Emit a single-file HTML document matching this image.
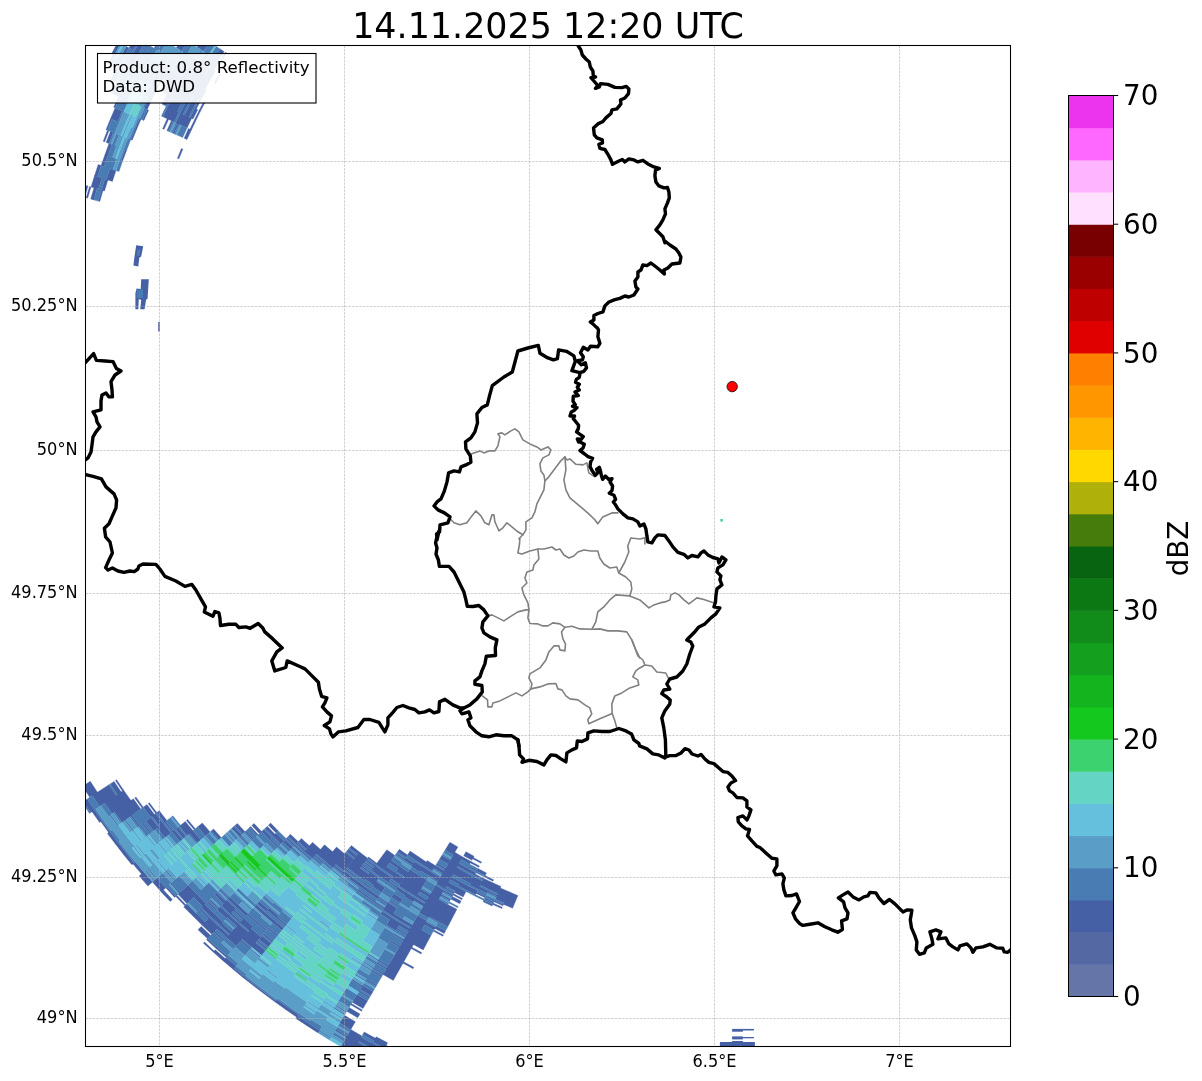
<!DOCTYPE html>
<html><head><meta charset="utf-8"><title>Radar</title>
<style>
html,body{margin:0;padding:0;background:#fff}
body{width:1202px;height:1081px;overflow:hidden}
svg{display:block}
text{font-family:"DejaVu Sans","Liberation Sans",sans-serif;fill:#000}
.grid line{stroke:#adadad;stroke-width:0.55;stroke-dasharray:2.6 1.0}
.bd{fill:none;stroke:#000;stroke-width:3.4;stroke-linejoin:round;stroke-linecap:round}
.ct{fill:none;stroke:#808080;stroke-width:1.6;stroke-linejoin:round;stroke-linecap:round}
</style></head><body>
<svg width="1202" height="1081" viewBox="0 0 1202 1081">
<rect width="1202" height="1081" fill="#fff"/>
<defs><clipPath id="ax"><rect x="85.5" y="45.5" width="925" height="1001"/></clipPath></defs>
<g clip-path="url(#ax)">
<g class="radar">
<path fill="#4560a4" stroke="#4560a4" stroke-width="0.35" d="M517.9,895.6L512.6,908.2L503.6,904.4L509.1,891.8ZM509.1,891.8L504.2,903.0L495.3,899.0L500.3,887.9ZM503.6,904.4L503.0,905.8L494.0,901.8L494.6,900.4ZM502.4,907.2L501.8,908.6L492.7,904.6L493.4,903.2ZM501.0,886.6L497.8,893.5L489.0,889.4L492.3,882.5ZM497.2,894.9L496.5,896.3L487.7,892.2L488.4,890.8ZM494.0,901.8L493.4,903.2L484.4,899.0L485.1,897.7ZM492.7,904.6L492.1,906.0L483.1,901.8L483.8,900.4ZM493.6,879.8L493.0,881.2L484.4,877.0L485.1,875.6ZM492.3,882.5L489.0,889.4L480.3,885.2L483.7,878.4ZM488.4,890.8L487.1,893.5L478.3,889.3L479.6,886.5ZM485.7,896.3L485.1,897.7L476.2,893.4L476.9,892.0ZM486.5,872.9L485.1,875.6L476.6,871.3L478.0,868.6ZM483.7,878.4L483.0,879.7L474.5,875.4L475.2,874.0ZM482.4,881.1L478.3,889.3L469.6,884.9L473.8,876.7ZM477.6,890.6L475.5,894.7L466.8,890.3L468.9,886.2ZM397.6,1051.3L397.0,1052.6L385.5,1046.8L386.2,1045.5ZM481.6,861.9L480.9,863.2L472.6,858.8L473.3,857.5ZM479.4,865.9L478.7,867.3L470.4,862.9L471.1,861.5ZM477.3,870.0L476.6,871.3L468.2,866.9L469.0,865.5ZM475.9,872.7L474.5,875.4L466.0,870.9L467.5,868.2ZM473.8,876.7L470.3,883.5L461.7,879.0L465.3,872.2ZM468.9,886.2L466.8,890.3L458.0,885.7L460.2,881.6ZM466.0,891.6L463.2,897.0L454.4,892.4L457.3,887.0ZM462.5,898.4L461.8,899.7L452.9,895.0L453.7,893.7ZM461.1,901.1L459.7,903.8L450.8,899.1L452.2,896.4ZM456.9,909.2L447.8,926.8L438.4,921.8L447.8,904.4ZM445.6,930.8L444.2,933.5L434.8,928.5L436.2,925.9ZM443.5,934.9L442.8,936.2L433.3,931.2L434.0,929.9ZM387.6,1042.8L384.8,1048.2L373.3,1042.2L376.2,1036.8ZM384.1,1049.5L382.0,1053.6L370.5,1047.5L372.6,1043.5ZM474.1,856.2L471.9,860.2L463.7,855.7L465.9,851.7ZM471.1,861.5L469.7,864.2L461.4,859.6L462.9,857.0ZM467.5,868.2L466.0,870.9L457.7,866.3L459.2,863.6ZM465.3,872.2L461.7,879.0L453.1,874.3L456.9,867.6ZM460.2,881.6L458.8,884.3L450.1,879.6L451.6,876.9ZM457.3,887.0L455.1,891.0L446.4,886.2L448.6,882.2ZM454.4,892.4L453.7,893.7L444.9,888.9L445.6,887.5ZM452.9,895.0L452.2,896.4L443.4,891.5L444.1,890.2ZM450.8,899.1L450.0,900.4L441.1,895.5L441.9,894.2ZM447.8,904.4L438.4,921.8L429.1,916.7L438.9,899.5ZM435.5,927.2L434.0,929.9L424.6,924.7L426.1,922.0ZM431.1,935.2L423.2,949.9L413.4,944.6L421.7,930.0ZM421.7,952.6L421.0,954.0L411.2,948.6L411.9,947.2ZM413.8,967.3L413.0,968.7L403.0,963.2L403.7,961.8ZM375.5,1038.2L374.1,1040.8L362.8,1034.7L364.2,1032.0ZM372.6,1043.5L370.5,1047.5L359.0,1041.3L361.3,1037.3ZM369.7,1048.9L367.6,1052.9L356.1,1046.6L358.3,1042.6ZM462.9,857.0L444.9,888.9L436.2,883.9L454.8,852.3ZM444.1,890.2L428.4,918.1L419.2,912.8L435.4,885.2ZM426.9,920.7L393.3,980.4L383.0,974.5L417.6,915.4ZM362.0,1036.0L352.4,1053.2L340.8,1046.6L350.8,1029.6ZM457.9,847.0L453.2,854.9L445.1,850.1L449.9,842.3ZM450.1,860.2L447.8,864.1L439.5,859.2L441.9,855.3ZM445.5,868.1L444.7,869.4L436.3,864.4L437.1,863.1ZM443.9,870.7L442.4,873.4L433.9,868.3L435.5,865.7ZM440.1,877.3L437.7,881.2L429.2,876.1L431.6,872.2ZM430.0,894.4L428.5,897.0L419.6,891.8L421.2,889.2ZM426.9,899.7L425.4,902.3L416.4,897.0L418.0,894.4ZM424.6,903.6L423.1,906.2L414.1,900.9L415.6,898.3ZM412.2,924.6L410.7,927.3L401.3,921.7L402.9,919.1ZM409.9,928.6L408.4,931.2L399.0,925.6L400.6,923.0ZM406.9,933.8L406.1,935.1L396.6,929.5L397.4,928.2ZM403.8,939.1L403.0,940.4L393.4,934.7L394.2,933.4ZM399.9,945.6L399.1,947.0L389.5,941.2L390.2,939.9ZM388.4,965.3L387.6,966.6L377.6,960.7L378.4,959.4ZM386.8,968.0L386.1,969.3L376.0,963.3L376.8,962.0ZM383.8,973.2L383.0,974.5L372.8,968.5L373.6,967.2ZM382.2,975.8L381.5,977.1L371.2,971.1L372.0,969.8ZM376.9,985.0L376.1,986.3L365.7,980.2L366.5,978.9ZM373.0,991.6L370.7,995.5L360.2,989.3L362.5,985.4ZM369.9,996.8L369.2,998.1L358.6,991.9L359.4,990.6ZM367.6,1000.8L363.0,1008.6L352.3,1002.2L357.0,994.5ZM362.3,1009.9L361.5,1011.2L350.7,1004.8L351.5,1003.5ZM360.0,1013.9L357.7,1017.8L346.8,1011.3L349.1,1007.4ZM355.4,1021.7L350.8,1029.6L339.7,1023.0L344.4,1015.2ZM347.0,1036.1L346.2,1037.5L334.9,1030.8L335.7,1029.5ZM435.5,865.7L432.4,870.9L424.0,865.7L427.2,860.6ZM431.6,872.2L429.2,876.1L420.7,870.9L423.1,867.0ZM426.8,880.0L416.4,897.0L407.6,891.5L418.2,874.7ZM415.6,898.3L413.3,902.2L404.3,896.6L406.8,892.8ZM402.9,919.1L401.3,921.7L392.1,916.0L393.7,913.4ZM400.6,923.0L395.8,930.8L386.4,925.0L391.3,917.2ZM362.5,985.4L361.8,986.7L351.4,980.3L352.2,979.0ZM426.4,861.9L424.0,865.7L415.7,860.4L418.2,856.6ZM423.1,867.0L419.9,872.2L411.5,866.8L414.8,861.7ZM418.2,874.7L407.6,891.5L398.9,885.9L409.8,869.3ZM406.8,892.8L405.2,895.4L396.3,889.7L398.0,887.1ZM402.7,899.2L400.2,903.1L391.3,897.3L393.8,893.5ZM398.6,905.7L397.8,906.9L388.8,901.2L389.6,899.9ZM397.0,908.2L392.1,916.0L382.9,910.1L388.0,902.4ZM391.3,917.2L389.6,919.8L380.4,913.9L382.1,911.3ZM319.8,1030.4L318.1,1032.9L307.0,1025.8L308.6,1023.3ZM418.2,856.6L415.7,860.4L407.5,854.9L410.1,851.1ZM414.0,862.9L412.3,865.5L404.0,859.9L405.7,857.4ZM408.1,871.9L404.7,876.9L396.2,871.3L399.7,866.2ZM403.9,878.2L399.7,884.6L391.1,878.8L395.4,872.5ZM398.0,887.1L397.2,888.4L388.5,882.6L389.4,881.4ZM388.0,902.4L387.1,903.7L378.2,897.7L379.0,896.5ZM384.6,907.5L383.8,908.8L374.7,902.8L375.6,901.5ZM308.6,1023.3L307.0,1025.8L295.9,1018.5L297.6,1016.0ZM407.5,854.9L405.7,857.4L397.6,851.8L399.3,849.3ZM404.9,858.7L404.0,859.9L395.8,854.3L396.7,853.0ZM399.7,866.2L398.0,868.8L389.6,863.0L391.4,860.5ZM395.4,872.5L392.8,876.3L384.3,870.4L387.0,866.7ZM391.9,877.6L388.5,882.6L379.9,876.7L383.4,871.7ZM385.0,887.7L381.6,892.7L372.8,886.6L376.4,881.6ZM379.0,896.5L377.3,899.0L368.4,892.8L370.2,890.4ZM375.6,901.5L374.7,902.8L365.8,896.6L366.7,895.3ZM298.5,1014.7L296.8,1017.2L285.9,1009.7L287.6,1007.2ZM394.9,855.5L384.3,870.4L375.9,864.4L386.8,849.7ZM383.4,871.7L379.9,876.7L371.4,870.6L375.0,865.6ZM379.0,877.9L373.7,885.4L365.1,879.2L370.5,871.8ZM372.0,887.9L371.1,889.1L362.4,882.9L363.3,881.6ZM370.2,890.4L368.4,892.8L359.7,886.6L361.5,884.1ZM366.7,895.3L365.8,896.6L356.9,890.2L357.8,889.0ZM287.6,1007.2L285.9,1009.7L275.1,1002.0L276.9,999.6ZM376.8,863.2L375.9,864.4L367.7,858.2L368.6,857.0ZM375.0,865.6L374.1,866.9L365.8,860.7L366.7,859.5ZM373.2,868.1L372.3,869.3L363.9,863.1L364.9,861.9ZM370.5,871.8L369.6,873.0L361.2,866.8L362.1,865.5ZM368.7,874.3L364.2,880.4L355.6,874.0L360.2,868.0ZM361.5,884.1L359.7,886.6L351.0,880.1L352.8,877.7ZM276.0,1000.8L275.1,1002.0L264.4,994.1L265.3,992.9ZM367.7,858.2L355.6,874.0L347.2,867.5L359.5,851.9ZM354.7,875.3L353.8,876.5L345.3,869.9L346.2,868.7ZM352.8,877.7L351.0,880.1L342.4,873.5L344.3,871.1ZM265.3,992.9L264.4,994.1L253.9,986.1L254.8,984.9ZM359.5,851.9L357.6,854.3L349.5,847.9L351.4,845.5ZM356.6,855.5L354.7,857.9L346.6,851.4L348.5,849.0ZM353.8,859.1L344.3,871.1L335.9,864.4L345.6,852.6ZM343.4,872.3L342.4,873.5L334.0,866.8L335.0,865.6ZM254.8,984.9L253.9,986.1L243.5,977.9L244.5,976.7ZM344.6,853.8L333.0,868.0L324.7,861.1L336.5,847.1ZM286.7,924.7L285.8,925.9L276.4,918.2L277.4,917.0ZM283.9,928.2L281.9,930.6L272.5,922.8L274.5,920.5ZM278.1,935.3L277.1,936.5L267.6,928.7L268.6,927.5ZM273.3,941.2L272.3,942.4L262.7,934.5L263.7,933.3ZM271.4,943.6L268.5,947.1L258.8,939.2L261.7,935.7ZM267.5,948.3L266.5,949.5L256.8,941.5L257.8,940.3ZM265.6,950.7L261.7,955.4L251.9,947.3L255.8,942.7ZM244.5,976.7L243.5,977.9L233.3,969.4L234.3,968.3ZM332.6,851.7L324.7,861.1L316.5,854.0L324.5,844.8ZM323.7,862.2L322.7,863.4L314.5,856.3L315.5,855.2ZM278.4,915.9L276.4,918.2L267.2,910.3L269.2,908.0ZM274.5,920.5L272.5,922.8L263.2,914.9L265.2,912.6ZM266.6,929.8L265.6,931.0L256.2,923.0L257.2,921.8ZM260.7,936.8L251.9,947.3L242.2,939.0L251.2,928.7ZM250.9,948.5L249.9,949.6L240.2,941.3L241.2,940.2ZM236.2,965.9L233.3,969.4L223.2,960.9L226.2,957.4ZM320.5,849.4L312.4,858.6L304.3,851.4L312.5,842.3ZM268.2,909.2L266.2,911.5L257.1,903.4L259.2,901.2ZM265.2,912.6L263.2,914.9L254.1,906.8L256.1,904.6ZM257.2,921.8L256.2,923.0L246.9,914.7L247.9,913.6ZM253.2,926.4L249.2,931.0L239.7,922.7L243.8,918.1ZM248.2,932.1L236.2,945.9L226.5,937.4L238.7,923.8ZM227.2,956.3L226.2,957.4L216.3,948.7L217.3,947.6ZM225.2,958.6L223.2,960.9L213.2,952.1L215.3,949.8ZM309.4,845.7L306.3,849.1L298.3,841.7L301.4,838.4ZM305.3,850.2L304.3,851.4L296.2,844.0L297.2,842.9ZM303.2,852.5L302.2,853.6L294.1,846.2L295.1,845.1ZM247.9,913.6L245.9,915.9L236.7,907.5L238.8,905.3ZM243.8,918.1L242.8,919.3L233.6,910.8L234.6,909.7ZM240.8,921.5L239.7,922.7L230.4,914.2L231.5,913.1ZM238.7,923.8L236.7,926.1L227.3,917.5L229.4,915.3ZM231.6,931.7L229.5,934.0L220.0,925.3L222.1,923.1ZM228.5,935.1L226.5,937.4L216.9,928.7L219.0,926.4ZM224.4,939.6L223.4,940.8L213.8,932.0L214.8,930.9ZM217.3,947.6L216.3,948.7L206.5,939.8L207.6,938.7ZM214.2,951.0L213.2,952.1L203.4,943.2L204.5,942.0ZM298.3,841.7L296.2,844.0L288.3,836.4L290.4,834.2ZM295.1,845.1L294.1,846.2L286.1,838.6L287.2,837.5ZM293.1,847.3L291.0,849.5L282.9,841.9L285.1,839.7ZM238.8,905.3L236.7,907.5L227.7,899.0L229.8,896.8ZM235.7,908.6L230.4,914.2L221.3,905.5L226.6,900.1ZM229.4,915.3L226.3,918.6L217.1,909.9L220.2,906.6ZM223.2,922.0L220.0,925.3L210.7,916.5L213.9,913.2ZM219.0,926.4L211.7,934.2L202.2,925.3L209.6,917.6ZM210.7,935.4L207.6,938.7L198.0,929.7L201.2,926.4ZM284.0,840.8L280.8,844.1L272.9,836.3L276.1,833.1ZM278.7,846.3L277.6,847.4L269.6,839.6L270.7,838.5ZM228.7,897.9L227.7,899.0L218.8,890.3L219.8,889.2ZM225.5,901.1L223.4,903.3L214.4,894.6L216.6,892.4ZM219.2,907.7L218.1,908.8L209.1,900.0L210.1,898.9ZM217.1,909.9L216.0,911.0L206.9,902.1L208.0,901.0ZM213.9,913.2L210.7,916.5L201.5,907.5L204.7,904.3ZM209.6,917.6L208.6,918.7L199.3,909.7L200.4,908.6ZM205.4,922.0L202.2,925.3L192.9,916.1L196.1,912.9ZM278.3,830.9L276.1,833.1L268.4,825.2L270.6,823.1ZM275.0,834.2L272.9,836.3L265.1,828.4L267.3,826.3ZM271.8,837.4L269.6,839.6L261.7,831.6L263.9,829.4ZM205.8,903.2L202.6,906.4L193.6,897.3L196.8,894.1ZM196.1,912.9L192.9,916.1L183.7,906.9L187.0,903.7ZM261.7,831.6L259.5,833.7L251.8,825.5L254.0,823.4ZM258.4,834.7L257.3,835.8L249.5,827.6L250.7,826.6ZM254.0,839.0L252.9,840.0L245.1,831.8L246.2,830.7ZM248.5,844.3L247.4,845.3L239.5,837.0L240.6,835.9ZM196.8,894.1L187.0,903.7L178.0,894.3L188.0,884.9ZM185.9,904.7L184.8,905.8L175.8,896.4L176.9,895.3ZM245.1,831.8L242.8,833.9L235.0,825.4L237.3,823.4ZM241.7,834.9L239.5,837.0L231.6,828.5L233.9,826.4ZM180.2,892.2L179.1,893.2L170.3,883.7L171.4,882.7ZM175.8,896.4L174.6,897.4L165.8,887.8L166.9,886.8ZM172.4,899.5L170.2,901.6L161.2,891.9L163.5,889.9ZM221.4,837.7L219.1,839.7L211.2,830.9L213.6,828.9ZM165.8,887.8L161.2,891.9L152.5,882.1L157.1,878.1ZM210.1,831.9L205.5,835.9L197.7,826.8L202.3,822.9ZM200.9,839.9L197.4,842.9L189.5,833.7L193.0,830.7ZM152.5,882.1L147.9,886.1L139.2,876.0L143.8,872.1ZM195.3,828.8L194.1,829.8L186.4,820.5L187.6,819.5ZM193.0,830.7L187.1,835.7L179.3,826.3L185.3,821.4ZM185.9,836.6L183.6,838.6L175.7,829.1L178.1,827.2ZM182.4,839.6L180.1,841.6L172.2,832.0L174.6,830.1ZM143.8,872.1L141.5,874.1L133.0,863.9L135.4,861.9ZM173.4,831.1L172.2,832.0L164.4,822.4L165.6,821.4ZM171.0,833.0L165.1,837.8L157.2,828.0L163.2,823.3ZM134.2,862.9L131.8,864.8L123.5,854.5L125.9,852.6ZM166.8,820.5L164.4,822.4L156.8,812.6L159.3,810.7ZM163.2,823.3L159.6,826.2L152.0,816.3L155.6,813.5ZM158.4,827.1L153.6,830.9L145.9,820.9L150.7,817.2ZM151.2,832.8L150.0,833.7L142.2,823.7L143.4,822.8ZM125.9,852.6L123.5,854.5L115.4,844.0L117.8,842.2ZM156.8,812.6L155.6,813.5L148.2,803.6L149.4,802.7ZM154.4,814.4L150.7,817.2L143.2,807.2L147.0,804.5ZM139.8,825.5L138.5,826.4L130.9,816.2L132.1,815.3ZM117.8,842.2L115.4,844.0L107.4,833.4L109.9,831.6ZM143.2,807.2L142.0,808.1L134.7,797.9L135.9,797.0ZM140.8,809.0L122.2,822.5L114.6,812.0L133.4,798.8ZM109.9,831.6L108.6,832.5L100.9,821.7L102.1,820.8ZM130.9,800.5L112.1,813.8L104.7,803.1L123.7,790.2ZM102.1,820.8L99.6,822.6L92.0,811.7L94.5,810.0ZM123.7,790.2L122.4,791.0L115.4,780.5L116.6,779.7ZM121.2,791.9L117.3,794.5L110.2,783.9L114.1,781.4ZM116.1,795.3L99.6,806.5L92.3,795.6L109.0,784.7ZM94.5,810.0L90.7,812.6L83.3,801.5L87.2,799.0ZM97.4,792.3L89.7,797.3L82.6,786.2L90.3,781.3ZM99.8,201.5L98.3,201.1L101.5,190.0L103.0,190.5ZM93.8,199.9L90.7,199.0L94.0,187.8L97.0,188.7ZM87.7,198.2L86.2,197.7L89.5,186.5L91.0,186.9ZM84.7,197.3L83.2,196.9L86.5,185.6L88.0,186.0ZM104.5,190.9L101.5,190.0L104.9,179.0L107.9,180.0ZM98.5,189.1L91.0,186.9L94.5,175.7L101.9,178.1ZM112.4,181.4L106.4,179.5L110.0,168.5L116.0,170.6ZM97.5,176.6L94.5,175.7L98.2,164.5L101.1,165.5ZM104.1,166.5L101.1,165.5L105.0,154.5L107.9,155.6ZM122.7,160.8L121.2,160.3L125.2,149.6L126.7,150.2ZM107.9,155.6L105.0,154.5L109.0,143.5L112.0,144.6ZM109.0,143.5L106.1,142.4L110.4,131.5L113.3,132.6ZM104.6,141.9L103.2,141.3L107.4,130.3L108.9,130.9ZM178.9,158.8L177.4,158.2L181.4,148.5L182.9,149.1ZM132.2,140.2L130.8,139.6L135.1,129.0L136.5,129.7ZM107.4,130.3L106.0,129.7L110.5,118.7L111.9,119.4ZM136.5,129.7L135.1,129.0L139.6,118.6L141.0,119.2ZM117.7,121.8L110.5,118.7L115.1,107.9L122.3,111.0ZM187.0,139.5L184.2,138.2L188.5,128.6L191.4,129.9ZM174.1,133.8L172.7,133.1L177.1,123.3L178.5,124.0ZM168.4,131.2L166.9,130.6L171.4,120.7L172.8,121.4ZM164.1,129.3L162.6,128.7L167.1,118.7L168.6,119.4ZM143.9,120.5L142.5,119.9L147.2,109.5L148.6,110.2ZM115.1,107.9L113.7,107.2L118.6,96.4L120.0,97.1ZM191.4,129.9L189.9,129.3L194.5,119.8L195.9,120.5ZM187.1,128.0L175.7,122.7L180.3,112.9L191.6,118.4ZM174.3,122.0L162.9,116.8L167.6,106.8L178.9,112.3ZM147.2,109.5L144.3,108.2L149.2,97.9L152.0,99.3ZM118.6,96.4L111.4,93.1L116.6,82.2L123.7,85.6ZM195.9,120.5L194.5,119.8L199.1,110.4L200.5,111.1ZM193.0,119.1L190.2,117.7L194.9,108.2L197.7,109.7ZM188.8,117.0L184.6,115.0L189.3,105.4L193.5,107.5ZM183.1,114.3L180.3,112.9L185.1,103.3L187.9,104.7ZM177.5,111.6L167.6,106.8L172.5,96.9L182.3,101.9ZM166.2,106.1L161.9,104.1L166.9,94.1L171.1,96.2ZM152.0,99.3L149.2,97.9L154.2,87.7L157.0,89.1ZM112.3,80.2L110.9,79.5L116.3,68.6L117.7,69.3ZM200.5,111.1L199.1,110.4L204.0,101.0L205.4,101.8ZM196.3,109.0L194.9,108.2L199.8,98.8L201.2,99.6ZM193.5,107.5L189.3,105.4L194.3,95.9L198.4,98.1ZM187.9,104.7L161.3,91.2L166.4,81.2L192.9,95.2ZM157.0,89.1L155.6,88.4L160.9,78.3L162.3,79.0ZM154.2,87.7L150.0,85.6L155.3,75.4L159.5,77.6ZM124.7,72.9L123.3,72.2L128.8,61.5L130.2,62.2ZM116.3,68.6L114.9,67.9L120.5,57.1L121.9,57.8ZM109.2,65.1L107.8,64.4L113.5,53.4L114.9,54.2ZM201.2,99.6L176.2,86.4L181.4,76.6L206.3,90.3ZM174.8,85.6L152.5,73.9L158.0,63.8L180.1,75.9ZM149.7,72.5L146.9,71.0L152.5,60.7L155.2,62.2ZM144.2,69.5L141.4,68.1L147.0,57.7L149.7,59.2ZM140.0,67.3L138.6,66.6L144.2,56.2L145.6,56.9ZM137.2,65.9L135.8,65.1L141.4,54.7L142.8,55.4ZM133.0,63.7L128.8,61.5L134.5,50.9L138.7,53.2ZM127.4,60.7L126.0,60.0L131.8,49.4L133.1,50.1ZM123.2,58.6L120.5,57.1L126.2,46.4L129.0,47.9ZM114.9,54.2L112.1,52.7L117.9,41.8L120.7,43.3ZM204.9,89.5L188.3,80.4L193.7,70.9L210.1,80.3ZM187.0,79.7L182.8,77.4L188.3,67.8L192.4,70.1ZM180.1,75.9L178.7,75.1L184.2,65.4L185.5,66.2ZM170.4,70.6L169.0,69.8L174.6,59.9L176.0,60.7ZM142.8,55.4L141.4,54.7L147.3,44.3L148.6,45.1ZM138.7,53.2L134.5,50.9L140.4,40.4L144.5,42.8ZM133.1,50.1L129.0,47.9L134.9,37.3L139.0,39.6ZM215.6,83.4L214.2,82.6L219.5,73.6L220.9,74.4ZM210.1,80.3L204.6,77.2L210.1,67.9L215.5,71.1ZM203.3,76.4L193.7,70.9L199.3,61.5L208.7,67.1ZM192.4,70.1L188.3,67.8L193.9,58.2L197.9,60.7ZM155.5,49.0L154.1,48.2L160.0,38.1L161.4,38.9ZM214.1,70.3L204.7,64.7L210.3,55.4L219.7,61.3ZM203.3,63.9L200.6,62.3L206.3,53.0L209.0,54.6ZM181.7,51.0L176.3,47.8L182.2,38.0L187.6,41.3ZM221.0,62.1L219.7,61.3L225.4,52.3L226.7,53.1ZM218.4,60.4L214.3,57.9L220.1,48.9L224.1,51.4ZM203.6,51.3L197.0,47.1L202.9,37.8L209.5,42.0Z"/>
<path fill="#4a7cb4" stroke="#4a7cb4" stroke-width="0.35" d="M504.2,903.0L503.6,904.4L494.6,900.4L495.3,899.0ZM497.8,893.5L497.2,894.9L488.4,890.8L489.0,889.4ZM496.5,896.3L495.9,897.7L487.1,893.5L487.7,892.2ZM495.3,899.0L494.0,901.8L485.1,897.7L486.4,894.9ZM493.4,903.2L492.7,904.6L483.8,900.4L484.4,899.0ZM489.0,889.4L488.4,890.8L479.6,886.5L480.3,885.2ZM487.1,893.5L485.7,896.3L476.9,892.0L478.3,889.3ZM484.4,899.0L483.8,900.4L474.9,896.1L475.5,894.7ZM485.1,875.6L484.4,877.0L475.9,872.7L476.6,871.3ZM483.0,879.7L482.4,881.1L473.8,876.7L474.5,875.4ZM478.3,889.3L477.6,890.6L468.9,886.2L469.6,884.9ZM475.5,894.7L474.9,896.1L466.0,891.6L466.8,890.3ZM478.0,868.6L477.3,870.0L469.0,865.5L469.7,864.2ZM476.6,871.3L475.9,872.7L467.5,868.2L468.2,866.9ZM474.5,875.4L473.8,876.7L465.3,872.2L466.0,870.9ZM470.3,883.5L468.9,886.2L460.2,881.6L461.7,879.0ZM466.8,890.3L466.0,891.6L457.3,887.0L458.0,885.7ZM458.3,906.5L457.6,907.8L448.6,903.1L449.3,901.7ZM447.8,926.8L445.6,930.8L436.2,925.9L438.4,921.8ZM384.8,1048.2L384.1,1049.5L372.6,1043.5L373.3,1042.2ZM469.7,864.2L467.5,868.2L459.2,863.6L461.4,859.6ZM466.0,870.9L465.3,872.2L456.9,867.6L457.7,866.3ZM461.7,879.0L460.2,881.6L451.6,876.9L453.1,874.3ZM458.8,884.3L457.3,887.0L448.6,882.2L450.1,879.6ZM455.1,891.0L454.4,892.4L445.6,887.5L446.4,886.2ZM453.7,893.7L452.9,895.0L444.1,890.2L444.9,888.9ZM452.2,896.4L451.5,897.7L442.6,892.8L443.4,891.5ZM450.0,900.4L449.3,901.7L440.4,896.8L441.1,895.5ZM448.6,903.1L447.8,904.4L438.9,899.5L439.6,898.2ZM438.4,921.8L437.7,923.2L428.4,918.1L429.1,916.7ZM436.2,925.9L435.5,927.2L426.1,922.0L426.9,920.7ZM434.0,929.9L431.1,935.2L421.7,930.0L424.6,924.7ZM374.1,1040.8L372.6,1043.5L361.3,1037.3L362.8,1034.7ZM370.5,1047.5L369.7,1048.9L358.3,1042.6L359.0,1041.3ZM444.9,888.9L444.1,890.2L435.4,885.2L436.2,883.9ZM428.4,918.1L426.9,920.7L417.6,915.4L419.2,912.8ZM453.2,854.9L451.7,857.6L443.5,852.7L445.1,850.1ZM450.9,858.9L450.1,860.2L441.9,855.3L442.7,854.0ZM447.8,864.1L445.5,868.1L437.1,863.1L439.5,859.2ZM444.7,869.4L443.9,870.7L435.5,865.7L436.3,864.4ZM442.4,873.4L441.6,874.7L433.2,869.6L433.9,868.3ZM440.8,876.0L440.1,877.3L431.6,872.2L432.4,870.9ZM437.7,881.2L437.0,882.6L428.4,877.4L429.2,876.1ZM435.4,885.2L431.6,891.8L422.8,886.6L426.8,880.0ZM430.8,893.1L430.0,894.4L421.2,889.2L422.0,887.9ZM428.5,897.0L426.9,899.7L418.0,894.4L419.6,891.8ZM425.4,902.3L424.6,903.6L415.6,898.3L416.4,897.0ZM421.5,908.9L420.0,911.5L410.9,906.1L412.5,903.5ZM417.6,915.4L413.8,922.0L404.5,916.5L408.5,910.0ZM410.7,927.3L409.9,928.6L400.6,923.0L401.3,921.7ZM408.4,931.2L406.9,933.8L397.4,928.2L399.0,925.6ZM406.1,935.1L404.5,937.8L395.0,932.1L396.6,929.5ZM403.0,940.4L399.9,945.6L390.2,939.9L393.4,934.7ZM399.1,947.0L395.3,953.5L385.5,947.7L389.5,941.2ZM394.5,954.8L388.4,965.3L378.4,959.4L384.7,949.0ZM387.6,966.6L386.8,968.0L376.8,962.0L377.6,960.7ZM386.1,969.3L383.8,973.2L373.6,967.2L376.0,963.3ZM383.0,974.5L382.2,975.8L372.0,969.8L372.8,968.5ZM381.5,977.1L376.9,985.0L366.5,978.9L371.2,971.1ZM376.1,986.3L375.3,987.6L364.9,981.5L365.7,980.2ZM374.5,988.9L373.0,991.6L362.5,985.4L364.1,982.8ZM370.7,995.5L369.9,996.8L359.4,990.6L360.2,989.3ZM369.2,998.1L367.6,1000.8L357.0,994.5L358.6,991.9ZM350.8,1029.6L349.3,1032.2L338.1,1025.6L339.7,1023.0ZM348.5,1033.5L347.0,1036.1L335.7,1029.5L337.3,1026.9ZM345.4,1038.8L343.9,1041.4L332.6,1034.7L334.2,1032.1ZM432.4,870.9L431.6,872.2L423.1,867.0L424.0,865.7ZM429.2,876.1L426.8,880.0L418.2,874.7L420.7,870.9ZM416.4,897.0L415.6,898.3L406.8,892.8L407.6,891.5ZM413.3,902.2L409.3,908.7L400.2,903.1L404.3,896.6ZM408.5,910.0L402.9,919.1L393.7,913.4L399.4,904.4ZM401.3,921.7L400.6,923.0L391.3,917.2L392.1,916.0ZM395.8,930.8L395.0,932.1L385.6,926.2L386.4,925.0ZM394.2,933.4L387.9,943.8L378.2,937.8L384.7,927.5ZM378.4,959.4L377.6,960.7L367.6,954.6L368.5,953.3ZM376.8,962.0L375.2,964.6L365.2,958.4L366.8,955.8ZM373.6,967.2L372.8,968.5L362.8,962.3L363.6,961.0ZM372.0,969.8L371.2,971.1L361.1,964.8L361.9,963.6ZM368.9,975.0L366.5,978.9L356.3,972.6L358.7,968.7ZM365.7,980.2L364.9,981.5L354.6,975.1L355.4,973.8ZM361.8,986.7L358.6,991.9L348.1,985.4L351.4,980.3ZM357.0,994.5L353.1,1000.9L342.4,994.4L346.5,988.0ZM352.3,1002.2L349.1,1007.4L338.4,1000.8L341.6,995.7ZM346.8,1011.3L346.0,1012.6L335.1,1006.0L336.0,1004.7ZM345.2,1013.9L344.4,1015.2L333.5,1008.5L334.3,1007.2ZM331.0,1037.3L330.2,1038.6L318.9,1031.6L319.8,1030.4ZM424.0,865.7L423.1,867.0L414.8,861.7L415.7,860.4ZM419.9,872.2L418.2,874.7L409.8,869.3L411.5,866.8ZM407.6,891.5L406.8,892.8L398.0,887.1L398.9,885.9ZM405.2,895.4L402.7,899.2L393.8,893.5L396.3,889.7ZM400.2,903.1L398.6,905.7L389.6,899.9L391.3,897.3ZM397.8,906.9L397.0,908.2L388.0,902.4L388.8,901.2ZM392.1,916.0L391.3,917.2L382.1,911.3L382.9,910.1ZM389.6,919.8L385.6,926.2L376.2,920.3L380.4,913.9ZM322.2,1026.5L319.8,1030.4L308.6,1023.3L311.1,1019.4ZM415.7,860.4L414.0,862.9L405.7,857.4L407.5,854.9ZM412.3,865.5L411.5,866.8L403.1,861.2L404.0,859.9ZM409.8,869.3L408.1,871.9L399.7,866.2L401.4,863.7ZM404.7,876.9L403.9,878.2L395.4,872.5L396.2,871.3ZM399.7,884.6L398.0,887.1L389.4,881.4L391.1,878.8ZM397.2,888.4L395.5,891.0L386.8,885.1L388.5,882.6ZM394.7,892.2L390.5,898.6L381.6,892.7L385.9,886.4ZM387.1,903.7L385.4,906.2L376.4,900.2L378.2,897.7ZM383.8,908.8L382.1,911.3L373.0,905.3L374.7,902.8ZM381.2,912.6L378.7,916.4L369.6,910.3L372.1,906.5ZM310.3,1020.7L308.6,1023.3L297.6,1016.0L299.3,1013.4ZM405.7,857.4L404.9,858.7L396.7,853.0L397.6,851.8ZM404.0,859.9L403.1,861.2L394.9,855.5L395.8,854.3ZM402.3,862.5L399.7,866.2L391.4,860.5L394.0,856.7ZM398.0,868.8L395.4,872.5L387.0,866.7L389.6,863.0ZM392.8,876.3L391.9,877.6L383.4,871.7L384.3,870.4ZM388.5,882.6L386.8,885.1L378.1,879.2L379.9,876.7ZM385.9,886.4L385.0,887.7L376.4,881.6L377.2,880.4ZM381.6,892.7L379.0,896.5L370.2,890.4L372.8,886.6ZM377.3,899.0L375.6,901.5L366.7,895.3L368.4,892.8ZM374.7,902.8L373.0,905.3L364.0,899.1L365.8,896.6ZM372.1,906.5L370.4,909.1L361.4,902.8L363.1,900.3ZM299.3,1013.4L298.5,1014.7L287.6,1007.2L288.5,1006.0ZM384.3,870.4L383.4,871.7L375.0,865.6L375.9,864.4ZM379.9,876.7L379.0,877.9L370.5,871.8L371.4,870.6ZM373.7,885.4L372.0,887.9L363.3,881.6L365.1,879.2ZM371.1,889.1L370.2,890.4L361.5,884.1L362.4,882.9ZM368.4,892.8L366.7,895.3L357.8,889.0L359.7,886.6ZM365.8,896.6L364.0,899.1L355.1,892.7L356.9,890.2ZM288.5,1006.0L287.6,1007.2L276.9,999.6L277.8,998.3ZM375.9,864.4L375.0,865.6L366.7,859.5L367.7,858.2ZM374.1,866.9L373.2,868.1L364.9,861.9L365.8,860.7ZM372.3,869.3L370.5,871.8L362.1,865.5L363.9,863.1ZM369.6,873.0L368.7,874.3L360.2,868.0L361.2,866.8ZM364.2,880.4L361.5,884.1L352.8,877.7L355.6,874.0ZM359.7,886.6L358.8,887.8L350.1,881.3L351.0,880.1ZM357.8,889.0L356.0,891.5L347.3,885.0L349.1,882.5ZM276.9,999.6L276.0,1000.8L265.3,992.9L266.3,991.7ZM355.6,874.0L354.7,875.3L346.2,868.7L347.2,867.5ZM353.8,876.5L352.8,877.7L344.3,871.1L345.3,869.9ZM351.0,880.1L350.1,881.3L341.5,874.7L342.4,873.5ZM349.1,882.5L348.2,883.8L339.6,877.1L340.6,875.9ZM266.3,991.7L265.3,992.9L254.8,984.9L255.8,983.7ZM357.6,854.3L356.6,855.5L348.5,849.0L349.5,847.9ZM354.7,857.9L353.8,859.1L345.6,852.6L346.6,851.4ZM344.3,871.1L343.4,872.3L335.0,865.6L335.9,864.4ZM342.4,873.5L341.5,874.7L333.0,868.0L334.0,866.8ZM340.6,875.9L339.6,877.1L331.1,870.3L332.1,869.1ZM255.8,983.7L254.8,984.9L244.5,976.7L245.4,975.5ZM333.0,868.0L331.1,870.3L322.7,863.4L324.7,861.1ZM291.6,918.8L286.7,924.7L277.4,917.0L282.3,911.2ZM285.8,925.9L283.9,928.2L274.5,920.5L276.4,918.2ZM281.9,930.6L278.1,935.3L268.6,927.5L272.5,922.8ZM277.1,936.5L273.3,941.2L263.7,933.3L267.6,928.7ZM272.3,942.4L271.4,943.6L261.7,935.7L262.7,934.5ZM268.5,947.1L267.5,948.3L257.8,940.3L258.8,939.2ZM266.5,949.5L265.6,950.7L255.8,942.7L256.8,941.5ZM260.8,956.6L259.8,957.8L249.9,949.6L250.9,948.5ZM246.4,974.3L244.5,976.7L234.3,968.3L236.2,965.9ZM324.7,861.1L323.7,862.2L315.5,855.2L316.5,854.0ZM322.7,863.4L320.7,865.7L312.4,858.6L314.5,856.3ZM283.3,910.0L280.4,913.5L271.2,905.7L274.2,902.3ZM279.4,914.7L278.4,915.9L269.2,908.0L270.2,906.9ZM276.4,918.2L274.5,920.5L265.2,912.6L267.2,910.3ZM270.5,925.2L266.6,929.8L257.2,921.8L261.2,917.2ZM265.6,931.0L260.7,936.8L251.2,928.7L256.2,923.0ZM251.9,947.3L250.9,948.5L241.2,940.2L242.2,939.0ZM249.9,949.6L245.0,955.5L235.2,947.1L240.2,941.3ZM238.2,963.6L236.2,965.9L226.2,957.4L228.2,955.1ZM312.4,858.6L310.4,860.9L302.2,853.6L304.3,851.4ZM273.2,903.4L271.2,905.7L262.2,897.8L264.3,895.5ZM270.2,906.9L268.2,909.2L259.2,901.2L261.2,898.9ZM266.2,911.5L265.2,912.6L256.1,904.6L257.1,903.4ZM262.2,916.1L257.2,921.8L247.9,913.6L253.0,908.0ZM256.2,923.0L253.2,926.4L243.8,918.1L246.9,914.7ZM249.2,931.0L248.2,932.1L238.7,923.8L239.7,922.7ZM236.2,945.9L233.2,949.4L223.4,940.8L226.5,937.4ZM231.2,951.7L227.2,956.3L217.3,947.6L221.4,943.0ZM306.3,849.1L305.3,850.2L297.2,842.9L298.3,841.7ZM304.3,851.4L303.2,852.5L295.1,845.1L296.2,844.0ZM301.2,854.8L299.1,857.0L291.0,849.5L293.1,847.3ZM256.1,904.6L254.1,906.8L245.0,898.6L247.1,896.4ZM252.0,909.1L251.0,910.2L241.9,901.9L242.9,900.8ZM245.9,915.9L243.8,918.1L234.6,909.7L236.7,907.5ZM242.8,919.3L240.8,921.5L231.5,913.1L233.6,910.8ZM239.7,922.7L238.7,923.8L229.4,915.3L230.4,914.2ZM236.7,926.1L234.6,928.3L225.2,919.8L227.3,917.5ZM233.6,929.5L231.6,931.7L222.1,923.1L224.2,920.9ZM229.5,934.0L228.5,935.1L219.0,926.4L220.0,925.3ZM226.5,937.4L224.4,939.6L214.8,930.9L216.9,928.7ZM223.4,940.8L217.3,947.6L207.6,938.7L213.8,932.0ZM296.2,844.0L295.1,845.1L287.2,837.5L288.3,836.4ZM294.1,846.2L293.1,847.3L285.1,839.7L286.1,838.6ZM291.0,849.5L288.9,851.8L280.8,844.1L282.9,841.9ZM287.8,852.9L285.7,855.1L277.6,847.4L279.7,845.2ZM247.1,896.4L245.0,898.6L236.1,890.2L238.3,888.0ZM242.9,900.8L238.8,905.3L229.8,896.8L234.0,892.4ZM236.7,907.5L235.7,908.6L226.6,900.1L227.7,899.0ZM230.4,914.2L229.4,915.3L220.2,906.6L221.3,905.5ZM226.3,918.6L223.2,922.0L213.9,913.2L217.1,909.9ZM220.0,925.3L219.0,926.4L209.6,917.6L210.7,916.5ZM286.1,838.6L284.0,840.8L276.1,833.1L278.3,830.9ZM280.8,844.1L278.7,846.3L270.7,838.5L272.9,836.3ZM277.6,847.4L274.4,850.7L266.4,842.8L269.6,839.6ZM229.8,896.8L228.7,897.9L219.8,889.2L220.9,888.1ZM226.6,900.1L225.5,901.1L216.6,892.4L217.7,891.3ZM223.4,903.3L220.2,906.6L211.2,897.8L214.4,894.6ZM218.1,908.8L217.1,909.9L208.0,901.0L209.1,900.0ZM216.0,911.0L213.9,913.2L204.7,904.3L206.9,902.1ZM210.7,916.5L209.6,917.6L200.4,908.6L201.5,907.5ZM208.6,918.7L205.4,922.0L196.1,912.9L199.3,909.7ZM272.9,836.3L271.8,837.4L263.9,829.4L265.1,828.4ZM269.6,839.6L265.3,843.9L257.3,835.8L261.7,831.6ZM264.2,844.9L259.9,849.3L251.8,841.1L256.2,836.9ZM217.7,891.3L205.8,903.2L196.8,894.1L208.9,882.5ZM202.6,906.4L197.2,911.8L188.1,902.6L193.6,897.3ZM257.3,835.8L254.0,839.0L246.2,830.7L249.5,827.6ZM252.9,840.0L251.8,841.1L243.9,832.8L245.1,831.8ZM249.6,843.2L248.5,844.3L240.6,835.9L241.7,834.9ZM201.2,889.9L196.8,894.1L188.0,884.9L192.5,880.7ZM242.8,833.9L241.7,834.9L233.9,826.4L235.0,825.4ZM238.3,838.0L236.1,840.1L228.2,831.5L230.5,829.5ZM235.0,841.1L233.9,842.2L225.9,833.6L227.1,832.6ZM232.7,843.2L229.4,846.4L221.4,837.7L224.8,834.6ZM188.0,884.9L180.2,892.2L171.4,882.7L179.4,875.5ZM178.0,894.3L175.8,896.4L166.9,886.8L169.2,884.7ZM219.1,839.7L218.0,840.7L210.1,831.9L211.2,830.9ZM216.8,841.8L213.4,844.8L205.5,835.9L208.9,832.9ZM174.8,879.6L173.7,880.6L165.1,871.0L166.3,870.0ZM171.4,882.7L165.8,887.8L157.1,878.1L162.8,873.0ZM205.5,835.9L200.9,839.9L193.0,830.7L197.7,826.8ZM197.4,842.9L196.2,843.9L188.3,834.7L189.5,833.7ZM157.1,878.1L155.9,879.1L147.3,869.1L148.5,868.1ZM154.8,880.1L153.6,881.1L145.0,871.1L146.2,870.1ZM187.1,835.7L185.9,836.6L178.1,827.2L179.3,826.3ZM183.6,838.6L182.4,839.6L174.6,830.1L175.7,829.1ZM180.1,841.6L176.6,844.5L168.6,834.9L172.2,832.0ZM180.5,825.3L179.3,826.3L171.7,816.7L172.9,815.8ZM178.1,827.2L173.4,831.1L165.6,821.4L170.5,817.7ZM172.2,832.0L171.0,833.0L163.2,823.3L164.4,822.4ZM165.1,837.8L162.7,839.8L154.8,829.9L157.2,828.0ZM135.4,861.9L134.2,862.9L125.9,852.6L127.1,851.7ZM164.4,822.4L163.2,823.3L155.6,813.5L156.8,812.6ZM159.6,826.2L158.4,827.1L150.7,817.2L152.0,816.3ZM153.6,830.9L151.2,832.8L143.4,822.8L145.9,820.9ZM150.0,833.7L146.4,836.5L138.5,826.4L142.2,823.7ZM127.1,851.7L125.9,852.6L117.8,842.2L119.0,841.2ZM150.7,817.2L139.8,825.5L132.1,815.3L143.2,807.2ZM138.5,826.4L137.3,827.4L129.6,817.1L130.9,816.2ZM133.7,830.1L132.4,831.1L124.7,820.7L125.9,819.8ZM120.2,840.3L117.8,842.2L109.9,831.6L112.3,829.8ZM122.2,822.5L121.0,823.4L113.4,812.9L114.6,812.0ZM118.5,825.2L117.3,826.2L109.6,815.6L110.9,814.7ZM111.1,830.7L109.9,831.6L102.1,820.8L103.4,820.0ZM112.1,813.8L108.4,816.4L100.9,805.7L104.7,803.1ZM103.4,820.0L102.1,820.8L94.5,810.0L95.8,809.1ZM117.3,794.5L116.1,795.3L109.0,784.7L110.2,783.9ZM99.6,806.5L94.5,810.0L87.2,799.0L92.3,795.6ZM90.7,812.6L89.5,813.4L82.0,802.4L83.3,801.5ZM98.3,201.1L93.8,199.9L97.0,188.7L101.5,190.0ZM101.5,190.0L98.5,189.1L101.9,178.1L104.9,179.0ZM106.4,179.5L97.5,176.6L101.1,165.5L110.0,168.5ZM119.0,171.6L116.0,170.6L119.8,159.8L122.7,160.8ZM113.0,169.6L104.1,166.5L107.9,155.6L116.8,158.7ZM121.2,160.3L119.8,159.8L123.7,149.1L125.2,149.6ZM112.4,157.1L107.9,155.6L112.0,144.6L116.4,146.3ZM126.7,150.2L123.7,149.1L127.9,138.4L130.8,139.6ZM114.9,145.7L112.0,144.6L116.2,133.8L119.1,134.9ZM110.5,144.1L109.0,143.5L113.3,132.6L114.7,133.2ZM130.8,139.6L129.3,139.0L133.7,128.4L135.1,129.0ZM114.7,133.2L107.4,130.3L111.9,119.4L119.2,122.4ZM135.1,129.0L133.7,128.4L138.2,118.0L139.6,118.6ZM119.2,122.4L117.7,121.8L122.3,111.0L123.8,111.6ZM182.7,137.6L177.0,135.0L181.4,125.3L187.1,128.0ZM175.5,134.4L174.1,133.8L178.5,124.0L180.0,124.7ZM172.7,133.1L171.2,132.5L175.7,122.7L177.1,123.3ZM169.8,131.9L168.4,131.2L172.8,121.4L174.3,122.0ZM142.5,119.9L139.6,118.6L144.3,108.2L147.2,109.5ZM123.8,111.6L115.1,107.9L120.0,97.1L128.6,101.0ZM175.7,122.7L174.3,122.0L178.9,112.3L180.3,112.9ZM162.9,116.8L161.4,116.1L166.2,106.1L167.6,106.8ZM144.3,108.2L142.9,107.6L147.8,97.2L149.2,97.9ZM127.2,100.3L118.6,96.4L123.7,85.6L132.2,89.7ZM190.2,117.7L188.8,117.0L193.5,107.5L194.9,108.2ZM184.6,115.0L183.1,114.3L187.9,104.7L189.3,105.4ZM180.3,112.9L177.5,111.6L182.3,101.9L185.1,103.3ZM167.6,106.8L166.2,106.1L171.1,96.2L172.5,96.9ZM149.2,97.9L144.9,95.9L150.0,85.6L154.2,87.7ZM133.6,90.4L129.3,88.4L134.6,77.8L138.8,79.9ZM127.9,87.7L125.1,86.3L130.3,75.7L133.2,77.1ZM123.7,85.6L118.0,82.9L123.3,72.2L128.9,75.0ZM115.2,81.6L112.3,80.2L117.7,69.3L120.5,70.7ZM194.9,108.2L193.5,107.5L198.4,98.1L199.8,98.8ZM189.3,105.4L187.9,104.7L192.9,95.2L194.3,95.9ZM161.3,91.2L159.9,90.5L165.0,80.5L166.4,81.2ZM150.0,85.6L124.7,72.9L130.2,62.2L155.3,75.4ZM121.9,71.4L120.5,70.7L126.0,60.0L127.4,60.7ZM117.7,69.3L116.3,68.6L121.9,57.8L123.2,58.6ZM114.9,67.9L112.1,66.5L117.7,55.6L120.5,57.1ZM110.7,65.8L109.2,65.1L114.9,54.2L116.3,54.9ZM176.2,86.4L174.8,85.6L180.1,75.9L181.4,76.6ZM152.5,73.9L149.7,72.5L155.2,62.2L158.0,63.8ZM146.9,71.0L144.2,69.5L149.7,59.2L152.5,60.7ZM141.4,68.1L140.0,67.3L145.6,56.9L147.0,57.7ZM138.6,66.6L137.2,65.9L142.8,55.4L144.2,56.2ZM135.8,65.1L133.0,63.7L138.7,53.2L141.4,54.7ZM128.8,61.5L127.4,60.7L133.1,50.1L134.5,50.9ZM126.0,60.0L123.2,58.6L129.0,47.9L131.8,49.4ZM188.3,80.4L187.0,79.7L192.4,70.1L193.7,70.9ZM182.8,77.4L181.4,76.6L186.9,67.0L188.3,67.8ZM178.7,75.1L171.8,71.3L177.3,61.5L184.2,65.4ZM169.0,69.8L167.7,69.1L173.2,59.2L174.6,59.9ZM166.3,68.3L164.9,67.5L170.5,57.6L171.9,58.4ZM163.5,66.8L158.0,63.8L163.7,53.7L169.1,56.8ZM155.2,62.2L153.9,61.5L159.6,51.4L160.9,52.1ZM151.1,60.0L142.8,55.4L148.6,45.1L156.8,49.8ZM141.4,54.7L138.7,53.2L144.5,42.8L147.3,44.3ZM134.5,50.9L133.1,50.1L139.0,39.6L140.4,40.4ZM204.6,77.2L203.3,76.4L208.7,67.1L210.1,67.9ZM193.7,70.9L192.4,70.1L197.9,60.7L199.3,61.5ZM188.3,67.8L177.3,61.5L183.0,51.8L193.9,58.2ZM176.0,60.7L174.6,59.9L180.3,50.2L181.7,51.0ZM160.9,52.1L155.5,49.0L161.4,38.9L166.8,42.1ZM204.7,64.7L203.3,63.9L209.0,54.6L210.3,55.4ZM200.6,62.3L199.3,61.5L205.0,52.1L206.3,53.0ZM196.6,59.8L195.2,59.0L201.0,49.6L202.3,50.5ZM187.1,54.2L181.7,51.0L187.6,41.3L192.9,44.6ZM214.3,57.9L210.3,55.4L216.2,46.3L220.1,48.9ZM209.0,54.6L203.6,51.3L209.5,42.0L214.8,45.4Z"/>
<path fill="#5a9ec8" stroke="#5a9ec8" stroke-width="0.35" d="M495.9,897.7L495.3,899.0L486.4,894.9L487.1,893.5ZM451.5,897.7L450.8,899.1L441.9,894.2L442.6,892.8ZM449.3,901.7L448.6,903.1L439.6,898.2L440.4,896.8ZM437.7,923.2L436.2,925.9L426.9,920.7L428.4,918.1ZM451.7,857.6L450.9,858.9L442.7,854.0L443.5,852.7ZM441.6,874.7L440.8,876.0L432.4,870.9L433.2,869.6ZM437.0,882.6L435.4,885.2L426.8,880.0L428.4,877.4ZM431.6,891.8L430.8,893.1L422.0,887.9L422.8,886.6ZM423.1,906.2L421.5,908.9L412.5,903.5L414.1,900.9ZM420.0,911.5L417.6,915.4L408.5,910.0L410.9,906.1ZM413.8,922.0L412.2,924.6L402.9,919.1L404.5,916.5ZM404.5,937.8L403.8,939.1L394.2,933.4L395.0,932.1ZM395.3,953.5L394.5,954.8L384.7,949.0L385.5,947.7ZM375.3,987.6L374.5,988.9L364.1,982.8L364.9,981.5ZM349.3,1032.2L348.5,1033.5L337.3,1026.9L338.1,1025.6ZM346.2,1037.5L345.4,1038.8L334.2,1032.1L334.9,1030.8ZM343.9,1041.4L342.4,1044.0L331.0,1037.3L332.6,1034.7ZM409.3,908.7L408.5,910.0L399.4,904.4L400.2,903.1ZM395.0,932.1L394.2,933.4L384.7,927.5L385.6,926.2ZM387.9,943.8L379.2,958.1L369.3,952.0L378.2,937.8ZM377.6,960.7L376.8,962.0L366.8,955.8L367.6,954.6ZM375.2,964.6L373.6,967.2L363.6,961.0L365.2,958.4ZM372.8,968.5L372.0,969.8L361.9,963.6L362.8,962.3ZM371.2,971.1L368.9,975.0L358.7,968.7L361.1,964.8ZM366.5,978.9L365.7,980.2L355.4,973.8L356.3,972.6ZM364.1,982.8L362.5,985.4L352.2,979.0L353.8,976.4ZM353.1,1000.9L352.3,1002.2L341.6,995.7L342.4,994.4ZM349.1,1007.4L346.8,1011.3L336.0,1004.7L338.4,1000.8ZM346.0,1012.6L345.2,1013.9L334.3,1007.2L335.1,1006.0ZM342.8,1017.8L342.0,1019.1L331.1,1012.4L331.9,1011.1ZM341.2,1020.4L339.7,1023.0L328.7,1016.2L330.3,1013.7ZM337.3,1026.9L331.0,1037.3L319.8,1030.4L326.2,1020.1ZM330.2,1038.6L329.4,1039.9L318.1,1032.9L318.9,1031.6ZM385.6,926.2L379.9,935.3L370.4,929.2L376.2,920.3ZM361.9,963.6L361.1,964.8L351.1,958.4L352.0,957.2ZM334.3,1007.2L333.5,1008.5L322.8,1001.7L323.6,1000.4ZM331.9,1011.1L328.7,1016.2L317.8,1009.3L321.1,1004.2ZM327.9,1017.5L322.2,1026.5L311.1,1019.4L316.9,1010.6ZM411.5,866.8L409.8,869.3L401.4,863.7L403.1,861.2ZM395.5,891.0L394.7,892.2L385.9,886.4L386.8,885.1ZM390.5,898.6L388.0,902.4L379.0,896.5L381.6,892.7ZM385.4,906.2L384.6,907.5L375.6,901.5L376.4,900.2ZM382.1,911.3L381.2,912.6L372.1,906.5L373.0,905.3ZM378.7,916.4L377.9,917.7L368.7,911.6L369.6,910.3ZM377.1,919.0L376.2,920.3L367.0,914.1L367.8,912.8ZM318.6,1008.0L317.8,1009.3L307.0,1002.1L307.9,1000.9ZM316.1,1011.8L315.3,1013.1L304.4,1005.9L305.3,1004.6ZM314.4,1014.4L310.3,1020.7L299.3,1013.4L303.6,1007.2ZM403.1,861.2L402.3,862.5L394.0,856.7L394.9,855.5ZM386.8,885.1L385.9,886.4L377.2,880.4L378.1,879.2ZM373.0,905.3L372.1,906.5L363.1,900.3L364.0,899.1ZM370.4,909.1L369.6,910.3L360.5,904.0L361.4,902.8ZM307.0,1002.1L299.3,1013.4L288.5,1006.0L296.4,994.8ZM363.1,900.3L360.5,904.0L351.5,897.6L354.2,893.9ZM296.4,994.8L288.5,1006.0L277.8,998.3L285.8,987.3ZM358.8,887.8L357.8,889.0L349.1,882.5L350.1,881.3ZM356.0,891.5L355.1,892.7L346.4,886.2L347.3,885.0ZM353.3,895.2L352.4,896.4L343.6,889.8L344.5,888.6ZM329.9,927.1L329.0,928.3L319.6,921.4L320.5,920.2ZM284.9,988.5L276.9,999.6L266.3,991.7L274.5,980.8ZM350.1,881.3L349.1,882.5L340.6,875.9L341.5,874.7ZM348.2,883.8L346.4,886.2L337.7,879.5L339.6,877.1ZM277.3,977.2L276.3,978.4L266.1,970.5L267.0,969.3ZM273.6,982.0L266.3,991.7L255.8,983.7L263.3,974.1ZM341.5,874.7L340.6,875.9L332.1,869.1L333.0,868.0ZM296.2,932.2L295.3,933.4L285.8,925.9L286.7,924.7ZM269.9,965.7L268.0,968.1L257.9,960.1L259.8,957.8ZM262.3,975.3L260.5,977.7L250.2,969.6L252.1,967.2ZM259.5,978.9L255.8,983.7L245.4,975.5L249.3,970.8ZM331.1,870.3L329.2,872.7L320.7,865.7L322.7,863.4ZM328.2,873.9L327.2,875.1L318.8,868.1L319.8,866.9ZM293.5,916.4L291.6,918.8L282.3,911.2L284.3,908.9ZM259.8,957.8L255.0,963.7L245.0,955.5L249.9,949.6ZM252.1,967.2L246.4,974.3L236.2,965.9L242.1,959.0ZM320.7,865.7L318.8,868.1L310.4,860.9L312.4,858.6ZM284.3,908.9L283.3,910.0L274.2,902.3L275.2,901.1ZM280.4,913.5L279.4,914.7L270.2,906.9L271.2,905.7ZM272.5,922.8L270.5,925.2L261.2,917.2L263.2,914.9ZM245.0,955.5L238.2,963.6L228.2,955.1L235.2,947.1ZM310.4,860.9L308.4,863.2L300.1,855.9L302.2,853.6ZM275.2,901.1L273.2,903.4L264.3,895.5L266.3,893.2ZM271.2,905.7L270.2,906.9L261.2,898.9L262.2,897.8ZM263.2,914.9L262.2,916.1L253.0,908.0L254.1,906.8ZM233.2,949.4L231.2,951.7L221.4,943.0L223.4,940.8ZM302.2,853.6L301.2,854.8L293.1,847.3L294.1,846.2ZM299.1,857.0L298.1,858.2L289.9,850.7L291.0,849.5ZM261.2,898.9L256.1,904.6L247.1,896.4L252.3,890.8ZM253.0,908.0L252.0,909.1L242.9,900.8L244.0,899.7ZM251.0,910.2L247.9,913.6L238.8,905.3L241.9,901.9ZM234.6,928.3L233.6,929.5L224.2,920.9L225.2,919.8ZM288.9,851.8L287.8,852.9L279.7,845.2L280.8,844.1ZM285.7,855.1L284.7,856.2L276.5,848.5L277.6,847.4ZM244.0,899.7L242.9,900.8L234.0,892.4L235.1,891.3ZM274.4,850.7L271.2,854.0L263.1,846.0L266.4,842.8ZM235.1,891.3L229.8,896.8L220.9,888.1L226.3,882.7ZM227.7,899.0L226.6,900.1L217.7,891.3L218.8,890.3ZM220.2,906.6L219.2,907.7L210.1,898.9L211.2,897.8ZM265.3,843.9L264.2,844.9L256.2,836.9L257.3,835.8ZM220.9,888.1L218.8,890.3L210.0,881.4L212.2,879.3ZM197.2,911.8L196.1,912.9L187.0,903.7L188.1,902.6ZM251.8,841.1L249.6,843.2L241.7,834.9L243.9,832.8ZM247.4,845.3L244.1,848.5L236.1,840.1L239.5,837.0ZM206.7,884.6L205.6,885.6L197.0,876.6L198.1,875.5ZM204.5,886.7L201.2,889.9L192.5,880.7L195.8,877.6ZM239.5,837.0L238.3,838.0L230.5,829.5L231.6,828.5ZM236.1,840.1L235.0,841.1L227.1,832.6L228.2,831.5ZM233.9,842.2L232.7,843.2L224.8,834.6L225.9,833.6ZM192.5,880.7L188.0,884.9L179.4,875.5L183.9,871.4ZM179.1,893.2L178.0,894.3L169.2,884.7L170.3,883.7ZM218.0,840.7L216.8,841.8L208.9,832.9L210.1,831.9ZM213.4,844.8L211.2,846.9L203.2,837.9L205.5,835.9ZM177.1,877.6L174.8,879.6L166.3,870.0L168.6,868.0ZM173.7,880.6L171.4,882.7L162.8,873.0L165.1,871.0ZM196.2,843.9L191.6,847.9L183.6,838.6L188.3,834.7ZM189.3,849.9L188.2,850.9L180.1,841.6L181.3,840.6ZM187.0,851.9L185.9,853.0L177.8,843.5L178.9,842.5ZM166.3,870.0L165.1,871.0L156.7,861.3L157.9,860.3ZM162.8,873.0L157.1,878.1L148.5,868.1L154.4,863.2ZM155.9,879.1L154.8,880.1L146.2,870.1L147.3,869.1ZM153.6,881.1L152.5,882.1L143.8,872.1L145.0,871.1ZM176.6,844.5L174.2,846.5L166.2,836.9L168.6,834.9ZM173.1,847.5L171.9,848.5L163.9,838.8L165.1,837.8ZM167.2,852.4L166.1,853.4L157.9,843.6L159.1,842.7ZM160.2,858.3L157.9,860.3L149.6,850.4L152.0,848.4ZM154.4,863.2L152.0,865.2L143.7,855.2L146.1,853.3ZM149.7,867.2L143.8,872.1L135.4,861.9L141.3,857.1ZM179.3,826.3L178.1,827.2L170.5,817.7L171.7,816.7ZM162.7,839.8L156.7,844.6L148.8,834.7L154.8,829.9ZM155.6,845.5L154.4,846.5L146.4,836.5L147.6,835.6ZM144.9,854.2L143.7,855.2L135.5,845.1L136.7,844.1ZM142.5,856.2L141.3,857.1L133.1,846.9L134.3,846.0ZM140.1,858.1L135.4,861.9L127.1,851.7L131.9,847.9ZM146.4,836.5L145.2,837.5L137.3,827.4L138.5,826.4ZM141.6,840.3L140.4,841.3L132.4,831.1L133.7,830.1ZM134.3,846.0L127.1,851.7L119.0,841.2L126.3,835.7ZM137.3,827.4L133.7,830.1L125.9,819.8L129.6,817.1ZM132.4,831.1L130.0,832.9L122.2,822.5L124.7,820.7ZM126.3,835.7L120.2,840.3L112.3,829.8L118.5,825.2ZM121.0,823.4L118.5,825.2L110.9,814.7L113.4,812.9ZM117.3,826.2L111.1,830.7L103.4,820.0L109.6,815.6ZM108.4,816.4L103.4,820.0L95.8,809.1L100.9,805.7ZM116.0,170.6L113.0,169.6L116.8,158.7L119.8,159.8ZM119.8,159.8L116.8,158.7L120.8,148.0L123.7,149.1ZM115.3,158.2L112.4,157.1L116.4,146.3L119.3,147.4ZM123.7,149.1L120.8,148.0L124.9,137.3L127.9,138.4ZM119.3,147.4L114.9,145.7L119.1,134.9L123.5,136.7ZM112.0,144.6L110.5,144.1L114.7,133.2L116.2,133.8ZM129.3,139.0L126.4,137.8L130.8,127.2L133.7,128.4ZM123.5,136.7L122.0,136.1L126.4,125.4L127.9,126.0ZM120.6,135.5L114.7,133.2L119.2,122.4L125.0,124.8ZM133.7,128.4L132.2,127.8L136.7,117.3L138.2,118.0ZM127.9,126.0L126.4,125.4L131.0,114.8L132.4,115.4ZM125.0,124.8L119.2,122.4L123.8,111.6L129.5,114.2ZM177.0,135.0L175.5,134.4L180.0,124.7L181.4,125.3ZM171.2,132.5L169.8,131.9L174.3,122.0L175.7,122.7ZM139.6,118.6L136.7,117.3L141.4,106.9L144.3,108.2ZM142.9,107.6L138.6,105.6L143.5,95.2L147.8,97.2ZM137.2,104.9L135.7,104.3L140.7,93.8L142.1,94.5ZM128.6,101.0L127.2,100.3L132.2,89.7L133.6,90.4ZM144.9,95.9L137.8,92.5L143.0,82.0L150.0,85.6ZM135.0,91.1L133.6,90.4L138.8,79.9L140.2,80.6ZM129.3,88.4L127.9,87.7L133.2,77.1L134.6,77.8ZM125.1,86.3L123.7,85.6L128.9,75.0L130.3,75.7ZM118.0,82.9L115.2,81.6L120.5,70.7L123.3,72.2ZM123.3,72.2L121.9,71.4L127.4,60.7L128.8,61.5ZM120.5,70.7L117.7,69.3L123.2,58.6L126.0,60.0ZM112.1,66.5L110.7,65.8L116.3,54.9L117.7,55.6ZM120.5,57.1L117.7,55.6L123.5,44.9L126.2,46.4ZM116.3,54.9L114.9,54.2L120.7,43.3L122.1,44.1ZM181.4,76.6L180.1,75.9L185.5,66.2L186.9,67.0ZM171.8,71.3L170.4,70.6L176.0,60.7L177.3,61.5ZM167.7,69.1L166.3,68.3L171.9,58.4L173.2,59.2ZM164.9,67.5L163.5,66.8L169.1,56.8L170.5,57.6ZM158.0,63.8L155.2,62.2L160.9,52.1L163.7,53.7ZM153.9,61.5L151.1,60.0L156.8,49.8L159.6,51.4ZM177.3,61.5L176.0,60.7L181.7,51.0L183.0,51.8ZM174.6,59.9L160.9,52.1L166.8,42.1L180.3,50.2ZM199.3,61.5L196.6,59.8L202.3,50.5L205.0,52.1ZM195.2,59.0L187.1,54.2L192.9,44.6L201.0,49.6Z"/>
<path fill="#64c0dc" stroke="#64c0dc" stroke-width="0.35" d="M342.4,1044.0L340.8,1046.6L329.4,1039.9L331.0,1037.3ZM379.2,958.1L378.4,959.4L368.5,953.3L369.3,952.0ZM364.9,981.5L364.1,982.8L353.8,976.4L354.6,975.1ZM358.6,991.9L357.0,994.5L346.5,988.0L348.1,985.4ZM344.4,1015.2L342.8,1017.8L331.9,1011.1L333.5,1008.5ZM342.0,1019.1L341.2,1020.4L330.3,1013.7L331.1,1012.4ZM339.7,1023.0L337.3,1026.9L326.2,1020.1L328.7,1016.2ZM379.9,935.3L372.5,946.8L362.8,940.6L370.4,929.2ZM368.5,953.3L366.0,957.1L356.1,950.8L358.6,947.0ZM363.6,961.0L361.9,963.6L352.0,957.2L353.6,954.6ZM361.1,964.8L360.3,966.1L350.3,959.7L351.1,958.4ZM359.5,967.4L356.3,972.6L346.1,966.1L349.5,961.0ZM353.8,976.4L353.0,977.7L342.8,971.1L343.6,969.9ZM352.2,979.0L349.8,982.8L339.4,976.2L341.9,972.4ZM345.7,989.3L343.3,993.1L332.8,986.4L335.3,982.6ZM341.6,995.7L337.6,1002.1L326.9,995.3L331.1,988.9ZM336.8,1003.4L334.3,1007.2L323.6,1000.4L326.1,996.6ZM333.5,1008.5L331.9,1011.1L321.1,1004.2L322.8,1001.7ZM328.7,1016.2L327.9,1017.5L316.9,1010.6L317.8,1009.3ZM377.9,917.7L377.1,919.0L367.8,912.8L368.7,911.6ZM376.2,920.3L370.4,929.2L361.0,922.9L367.0,914.1ZM358.6,947.0L356.1,950.8L346.4,944.3L348.9,940.5ZM353.6,954.6L350.3,959.7L340.4,953.1L343.8,948.1ZM347.0,964.8L346.1,966.1L336.1,959.4L336.9,958.1ZM333.6,985.1L331.9,987.7L321.5,980.8L323.2,978.3ZM331.1,988.9L327.8,994.0L317.3,987.1L320.7,982.0ZM324.4,999.1L322.8,1001.7L312.1,994.6L313.8,992.1ZM321.9,1002.9L318.6,1008.0L307.9,1000.9L311.3,995.9ZM317.8,1009.3L316.1,1011.8L305.3,1004.6L307.0,1002.1ZM315.3,1013.1L314.4,1014.4L303.6,1007.2L304.4,1005.9ZM369.6,910.3L368.7,911.6L359.6,905.3L360.5,904.0ZM367.8,912.8L366.1,915.4L357.0,909.0L358.7,906.5ZM365.3,916.6L362.7,920.4L353.4,914.0L356.1,910.3ZM358.4,926.7L355.8,930.5L346.4,924.0L349.0,920.2ZM348.9,940.5L346.4,944.3L336.7,937.6L339.4,933.9ZM345.5,945.6L344.7,946.8L335.0,940.1L335.8,938.9ZM343.8,948.1L339.5,954.4L329.7,947.6L334.1,941.4ZM336.9,958.1L336.1,959.4L326.2,952.6L327.1,951.3ZM333.5,963.2L332.7,964.4L322.7,957.5L323.5,956.3ZM322.4,979.5L321.5,980.8L311.3,973.7L312.1,972.4ZM319.8,983.3L317.3,987.1L306.9,979.9L309.5,976.2ZM316.4,988.3L315.5,989.6L305.1,982.4L306.0,981.1ZM314.7,990.8L307.0,1002.1L296.4,994.8L304.2,983.6ZM364.0,899.1L363.1,900.3L354.2,893.9L355.1,892.7ZM359.6,905.3L357.0,909.0L347.9,902.5L350.6,898.8ZM356.1,910.3L352.6,915.2L343.4,908.7L347.0,903.8ZM349.9,919.0L342.9,928.9L333.5,922.2L340.7,912.4ZM342.0,930.2L341.1,931.4L331.7,924.7L332.6,923.4ZM339.4,933.9L335.0,940.1L325.4,933.3L329.9,927.1ZM334.1,941.4L333.2,942.6L323.6,935.7L324.5,934.5ZM332.3,943.8L327.9,950.1L318.2,943.1L322.7,936.9ZM327.1,951.3L326.2,952.6L316.4,945.5L317.3,944.3ZM323.5,956.3L321.8,958.8L311.9,951.7L313.7,949.2ZM320.9,960.0L320.0,961.3L310.1,954.1L311.0,952.9ZM312.1,972.4L311.3,973.7L301.1,966.4L302.0,965.2ZM308.6,977.4L306.9,979.9L296.6,972.6L298.4,970.1ZM306.0,981.1L305.1,982.4L294.8,975.0L295.7,973.8ZM304.2,983.6L296.4,994.8L285.8,987.3L293.9,976.2ZM355.1,892.7L353.3,895.2L344.5,888.6L346.4,886.2ZM352.4,896.4L351.5,897.6L342.7,891.0L343.6,889.8ZM348.8,901.3L347.9,902.5L339.0,895.9L339.9,894.7ZM347.0,903.8L342.5,909.9L333.4,903.2L338.1,897.1ZM341.6,911.1L336.2,918.5L327.0,911.7L332.5,904.4ZM334.4,921.0L333.5,922.2L324.2,915.3L325.1,914.1ZM332.6,923.4L329.9,927.1L320.5,920.2L323.3,916.5ZM329.0,928.3L328.1,929.6L318.7,922.6L319.6,921.4ZM327.2,930.8L323.6,935.7L314.1,928.7L317.8,923.8ZM322.7,936.9L320.9,939.4L311.3,932.3L313.1,929.9ZM319.1,941.9L318.2,943.1L308.5,935.9L309.5,934.7ZM316.4,945.5L311.9,951.7L302.1,944.4L306.7,938.4ZM311.0,952.9L310.1,954.1L300.3,946.9L301.2,945.6ZM309.2,955.4L308.3,956.6L298.4,949.3L299.3,948.1ZM307.4,957.8L305.6,960.3L295.7,952.9L297.5,950.5ZM302.9,964.0L300.2,967.7L290.1,960.2L292.9,956.6ZM298.4,970.1L297.5,971.3L287.4,963.8L288.3,962.6ZM295.7,973.8L284.9,988.5L274.5,980.8L285.5,966.3ZM346.4,886.2L342.7,891.0L333.9,884.3L337.7,879.5ZM341.7,892.3L334.4,902.0L325.4,895.1L333.0,885.5ZM331.6,905.6L328.8,909.2L319.8,902.3L322.6,898.7ZM325.1,914.1L324.2,915.3L315.0,908.3L316.0,907.1ZM323.3,916.5L318.7,922.6L309.4,915.5L314.1,909.5ZM317.8,923.8L314.1,928.7L304.7,921.4L308.4,916.7ZM313.1,929.9L311.3,932.3L301.8,925.0L303.7,922.6ZM309.5,934.7L303.9,942.0L294.3,934.6L300.0,927.4ZM303.0,943.2L302.1,944.4L292.4,937.0L293.4,935.8ZM301.2,945.6L300.3,946.9L290.5,939.4L291.5,938.2ZM299.3,948.1L298.4,949.3L288.7,941.8L289.6,940.6ZM292.9,956.6L291.1,959.0L281.1,951.4L283.0,949.0ZM290.1,960.2L288.3,962.6L278.3,955.0L280.2,952.6ZM287.4,963.8L286.5,965.1L276.4,957.4L277.4,956.2ZM285.5,966.3L277.3,977.2L267.0,969.3L275.5,958.6ZM276.3,978.4L273.6,982.0L263.3,974.1L266.1,970.5ZM339.6,877.1L337.7,879.5L329.2,872.7L331.1,870.3ZM336.8,880.7L334.9,883.1L326.3,876.2L328.2,873.9ZM333.0,885.5L332.0,886.7L323.4,879.8L324.3,878.6ZM330.2,889.1L326.4,893.9L317.6,886.9L321.4,882.1ZM325.4,895.1L323.5,897.5L314.7,890.4L316.6,888.1ZM322.6,898.7L320.7,901.1L311.8,894.0L313.7,891.6ZM316.0,907.1L315.0,908.3L306.0,901.1L307.0,899.9ZM314.1,909.5L312.2,911.9L303.1,904.6L305.0,902.2ZM311.3,913.1L309.4,915.5L300.2,908.2L302.2,905.8ZM308.4,916.7L306.6,919.0L297.3,911.7L299.3,909.3ZM305.6,920.2L304.7,921.4L295.4,914.1L296.4,912.9ZM302.8,923.8L296.2,932.2L286.7,924.7L293.5,916.4ZM295.3,933.4L292.4,937.0L282.9,929.4L285.8,925.9ZM291.5,938.2L290.5,939.4L281.0,931.8L281.9,930.6ZM289.6,940.6L288.7,941.8L279.0,934.2L280.0,933.0ZM287.7,943.0L284.9,946.6L275.2,938.9L278.1,935.3ZM282.1,950.2L281.1,951.4L271.4,943.6L272.3,942.4ZM280.2,952.6L279.3,953.8L269.4,946.0L270.4,944.8ZM275.5,958.6L271.7,963.4L261.7,955.4L265.6,950.7ZM270.8,964.5L269.9,965.7L259.8,957.8L260.8,956.6ZM268.0,968.1L262.3,975.3L252.1,967.2L257.9,960.1ZM260.5,977.7L259.5,978.9L249.3,970.8L250.2,969.6ZM329.2,872.7L328.2,873.9L319.8,866.9L320.7,865.7ZM327.2,875.1L325.3,877.4L316.8,870.4L318.8,868.1ZM324.3,878.6L323.4,879.8L314.8,872.7L315.8,871.6ZM321.4,882.1L318.5,885.7L309.9,878.6L312.9,875.1ZM317.6,886.9L314.7,890.4L306.0,883.2L308.9,879.7ZM313.7,891.6L311.8,894.0L303.0,886.7L305.0,884.4ZM305.0,902.2L295.4,914.1L286.3,906.5L296.1,894.9ZM294.4,915.2L293.5,916.4L284.3,908.9L285.3,907.7ZM261.7,955.4L260.8,956.6L250.9,948.5L251.9,947.3ZM255.0,963.7L252.1,967.2L242.1,959.0L245.0,955.5ZM318.8,868.1L314.8,872.7L306.4,865.5L310.4,860.9ZM312.9,875.1L309.9,878.6L301.4,871.3L304.4,867.8ZM306.9,882.0L306.0,883.2L297.3,875.9L298.4,874.7ZM305.0,884.4L304.0,885.5L295.3,878.2L296.3,877.0ZM301.0,889.0L300.0,890.2L291.3,882.7L292.3,881.6ZM297.1,893.7L284.3,908.9L275.2,901.1L288.3,886.2ZM308.4,863.2L305.4,866.7L297.1,859.3L300.1,855.9ZM282.3,893.1L281.3,894.2L272.5,886.5L273.5,885.3ZM279.3,896.5L275.2,901.1L266.3,893.2L270.4,888.7ZM298.1,858.2L294.0,862.7L285.7,855.1L289.9,850.7ZM266.3,893.2L262.2,897.8L253.4,889.7L257.5,885.2ZM254.1,906.8L253.0,908.0L244.0,899.7L245.0,898.6ZM284.7,856.2L282.6,858.5L274.4,850.7L276.5,848.5ZM255.5,887.4L253.4,889.7L244.6,881.4L246.8,879.2ZM252.3,890.8L247.1,896.4L238.3,888.0L243.6,882.5ZM245.0,898.6L244.0,899.7L235.1,891.3L236.1,890.2ZM271.2,854.0L269.1,856.2L260.9,848.2L263.1,846.0ZM243.6,882.5L242.5,883.6L233.9,875.2L235.0,874.1ZM238.3,888.0L236.1,890.2L227.4,881.6L229.6,879.5ZM259.9,849.3L256.6,852.5L248.5,844.3L251.8,841.1ZM226.3,882.7L225.2,883.8L216.6,875.0L217.7,874.0ZM218.8,890.3L217.7,891.3L208.9,882.5L210.0,881.4ZM244.1,848.5L241.9,850.7L233.9,842.2L236.1,840.1ZM240.8,851.7L239.7,852.8L231.6,844.3L232.7,843.2ZM214.4,877.2L213.3,878.2L204.8,869.3L205.9,868.2ZM212.2,879.3L210.0,881.4L201.4,872.4L203.7,870.3ZM208.9,882.5L206.7,884.6L198.1,875.5L200.3,873.4ZM205.6,885.6L204.5,886.7L195.8,877.6L197.0,876.6ZM229.4,846.4L227.1,848.4L219.1,839.7L221.4,837.7ZM200.3,873.4L197.0,876.6L188.5,867.3L191.9,864.3ZM195.8,877.6L194.7,878.7L186.2,869.4L187.3,868.4ZM193.6,879.7L192.5,880.7L183.9,871.4L185.0,870.4ZM211.2,846.9L207.8,850.0L199.7,840.9L203.2,837.9ZM206.6,851.0L204.3,853.0L196.2,843.9L198.5,841.9ZM197.5,859.2L196.4,860.2L188.2,850.9L189.3,849.9ZM195.3,861.2L188.5,867.3L180.1,858.0L187.0,851.9ZM187.3,868.4L177.1,877.6L168.6,868.0L178.9,859.0ZM190.5,848.9L189.3,849.9L181.3,840.6L182.4,839.6ZM188.2,850.9L187.0,851.9L178.9,842.5L180.1,841.6ZM185.9,853.0L184.7,854.0L176.6,844.5L177.8,843.5ZM183.6,855.0L182.4,856.0L174.2,846.5L175.4,845.5ZM181.2,857.0L180.1,858.0L171.9,848.5L173.1,847.5ZM178.9,859.0L176.6,861.0L168.4,851.4L170.7,849.4ZM175.5,862.0L173.2,864.0L164.9,854.4L167.2,852.4ZM172.0,865.0L166.3,870.0L157.9,860.3L163.7,855.3ZM165.1,871.0L162.8,873.0L154.4,863.2L156.7,861.3ZM174.2,846.5L173.1,847.5L165.1,837.8L166.2,836.9ZM171.9,848.5L167.2,852.4L159.1,842.7L163.9,838.8ZM166.1,853.4L160.2,858.3L152.0,848.4L157.9,843.6ZM157.9,860.3L154.4,863.2L146.1,853.3L149.6,850.4ZM152.0,865.2L149.7,867.2L141.3,857.1L143.7,855.2ZM156.7,844.6L155.6,845.5L147.6,835.6L148.8,834.7ZM154.4,846.5L144.9,854.2L136.7,844.1L146.4,836.5ZM143.7,855.2L142.5,856.2L134.3,846.0L135.5,845.1ZM141.3,857.1L140.1,858.1L131.9,847.9L133.1,846.9ZM145.2,837.5L141.6,840.3L133.7,830.1L137.3,827.4ZM140.4,841.3L134.3,846.0L126.3,835.7L132.4,831.1ZM130.0,832.9L126.3,835.7L118.5,825.2L122.2,822.5ZM116.8,158.7L115.3,158.2L119.3,147.4L120.8,148.0ZM120.8,148.0L119.3,147.4L123.5,136.7L124.9,137.3ZM126.4,137.8L123.5,136.7L127.9,126.0L130.8,127.2ZM122.0,136.1L120.6,135.5L125.0,124.8L126.4,125.4ZM132.2,127.8L127.9,126.0L132.4,115.4L136.7,117.3ZM126.4,125.4L125.0,124.8L129.5,114.2L131.0,114.8ZM136.7,117.3L135.3,116.7L140.0,106.2L141.4,106.9ZM132.4,115.4L131.0,114.8L135.7,104.3L137.2,104.9ZM129.5,114.2L123.8,111.6L128.6,101.0L134.3,103.6ZM138.6,105.6L137.2,104.9L142.1,94.5L143.5,95.2ZM135.7,104.3L132.9,103.0L137.8,92.5L140.7,93.8ZM130.0,101.6L128.6,101.0L133.6,90.4L135.0,91.1ZM137.8,92.5L135.0,91.1L140.2,80.6L143.0,82.0ZM117.7,55.6L116.3,54.9L122.1,44.1L123.5,44.9ZM210.3,55.4L209.0,54.6L214.8,45.4L216.2,46.3Z"/>
<path fill="#64d4c4" stroke="#64d4c4" stroke-width="0.35" d="M372.5,946.8L369.3,952.0L359.5,945.7L362.8,940.6ZM366.0,957.1L363.6,961.0L353.6,954.6L356.1,950.8ZM360.3,966.1L359.5,967.4L349.5,961.0L350.3,959.7ZM356.3,972.6L353.8,976.4L343.6,969.9L346.1,966.1ZM353.0,977.7L352.2,979.0L341.9,972.4L342.8,971.1ZM349.8,982.8L345.7,989.3L335.3,982.6L339.4,976.2ZM343.3,993.1L341.6,995.7L331.1,988.9L332.8,986.4ZM337.6,1002.1L336.8,1003.4L326.1,996.6L326.9,995.3ZM370.4,929.2L359.5,945.7L349.8,939.3L361.0,922.9ZM356.1,950.8L353.6,954.6L343.8,948.1L346.4,944.3ZM350.3,959.7L348.6,962.2L338.7,955.6L340.4,953.1ZM347.8,963.5L347.0,964.8L336.9,958.1L337.8,956.9ZM346.1,966.1L345.3,967.3L335.2,960.6L336.1,959.4ZM343.6,969.9L340.3,975.0L330.1,968.2L333.5,963.2ZM339.4,976.2L338.6,977.5L328.4,970.7L329.2,969.5ZM336.9,980.0L336.1,981.3L325.8,974.5L326.7,973.2ZM335.3,982.6L333.6,985.1L323.2,978.3L325.0,975.7ZM331.9,987.7L331.1,988.9L320.7,982.0L321.5,980.8ZM327.8,994.0L324.4,999.1L313.8,992.1L317.3,987.1ZM322.8,1001.7L321.9,1002.9L311.3,995.9L312.1,994.6ZM368.7,911.6L367.8,912.8L358.7,906.5L359.6,905.3ZM366.1,915.4L365.3,916.6L356.1,910.3L357.0,909.0ZM362.7,920.4L361.0,922.9L351.7,916.5L353.4,914.0ZM360.1,924.2L358.4,926.7L349.0,920.2L350.8,917.7ZM355.8,930.5L349.8,939.3L340.2,932.7L346.4,924.0ZM346.4,944.3L345.5,945.6L335.8,938.9L336.7,937.6ZM344.7,946.8L343.8,948.1L334.1,941.4L335.0,940.1ZM339.5,954.4L336.9,958.1L327.1,951.3L329.7,947.6ZM336.1,959.4L333.5,963.2L323.5,956.3L326.2,952.6ZM332.7,964.4L328.4,970.7L318.3,963.7L322.7,957.5ZM327.5,972.0L322.4,979.5L312.1,972.4L317.4,965.0ZM321.5,980.8L319.8,983.3L309.5,976.2L311.3,973.7ZM317.3,987.1L316.4,988.3L306.0,981.1L306.9,979.9ZM315.5,989.6L314.7,990.8L304.2,983.6L305.1,982.4ZM360.5,904.0L359.6,905.3L350.6,898.8L351.5,897.6ZM357.0,909.0L356.1,910.3L347.0,903.8L347.9,902.5ZM352.6,915.2L349.9,919.0L340.7,912.4L343.4,908.7ZM342.9,928.9L342.0,930.2L332.6,923.4L333.5,922.2ZM341.1,931.4L339.4,933.9L329.9,927.1L331.7,924.7ZM335.0,940.1L334.1,941.4L324.5,934.5L325.4,933.3ZM333.2,942.6L332.3,943.8L322.7,936.9L323.6,935.7ZM327.9,950.1L327.1,951.3L317.3,944.3L318.2,943.1ZM326.2,952.6L323.5,956.3L313.7,949.2L316.4,945.5ZM321.8,958.8L320.9,960.0L311.0,952.9L311.9,951.7ZM320.0,961.3L312.1,972.4L302.0,965.2L310.1,954.1ZM311.3,973.7L310.4,974.9L300.2,967.7L301.1,966.4ZM309.5,976.2L308.6,977.4L298.4,970.1L299.3,968.9ZM305.1,982.4L304.2,983.6L293.9,976.2L294.8,975.0ZM351.5,897.6L348.8,901.3L339.9,894.7L342.7,891.0ZM347.9,902.5L347.0,903.8L338.1,897.1L339.0,895.9ZM342.5,909.9L341.6,911.1L332.5,904.4L333.4,903.2ZM336.2,918.5L334.4,921.0L325.1,914.1L327.0,911.7ZM333.5,922.2L332.6,923.4L323.3,916.5L324.2,915.3ZM328.1,929.6L327.2,930.8L317.8,923.8L318.7,922.6ZM323.6,935.7L322.7,936.9L313.1,929.9L314.1,928.7ZM320.9,939.4L319.1,941.9L309.5,934.7L311.3,932.3ZM318.2,943.1L316.4,945.5L306.7,938.4L308.5,935.9ZM311.9,951.7L311.0,952.9L301.2,945.6L302.1,944.4ZM310.1,954.1L309.2,955.4L299.3,948.1L300.3,946.9ZM308.3,956.6L307.4,957.8L297.5,950.5L298.4,949.3ZM305.6,960.3L302.9,964.0L292.9,956.6L295.7,952.9ZM300.2,967.7L298.4,970.1L288.3,962.6L290.1,960.2ZM297.5,971.3L295.7,973.8L285.5,966.3L287.4,963.8ZM342.7,891.0L341.7,892.3L333.0,885.5L333.9,884.3ZM334.4,902.0L331.6,905.6L322.6,898.7L325.4,895.1ZM328.8,909.2L325.1,914.1L316.0,907.1L319.8,902.3ZM324.2,915.3L323.3,916.5L314.1,909.5L315.0,908.3ZM318.7,922.6L317.8,923.8L308.4,916.7L309.4,915.5ZM314.1,928.7L313.1,929.9L303.7,922.6L304.7,921.4ZM311.3,932.3L309.5,934.7L300.0,927.4L301.8,925.0ZM303.9,942.0L303.0,943.2L293.4,935.8L294.3,934.6ZM302.1,944.4L301.2,945.6L291.5,938.2L292.4,937.0ZM300.3,946.9L299.3,948.1L289.6,940.6L290.5,939.4ZM298.4,949.3L294.7,954.1L284.9,946.6L288.7,941.8ZM291.1,959.0L290.1,960.2L280.2,952.6L281.1,951.4ZM288.3,962.6L287.4,963.8L277.4,956.2L278.3,955.0ZM286.5,965.1L285.5,966.3L275.5,958.6L276.4,957.4ZM337.7,879.5L336.8,880.7L328.2,873.9L329.2,872.7ZM334.9,883.1L333.0,885.5L324.3,878.6L326.3,876.2ZM332.0,886.7L330.2,889.1L321.4,882.1L323.4,879.8ZM326.4,893.9L325.4,895.1L316.6,888.1L317.6,886.9ZM323.5,897.5L322.6,898.7L313.7,891.6L314.7,890.4ZM320.7,901.1L319.8,902.3L310.8,895.2L311.8,894.0ZM318.8,903.5L317.9,904.7L308.9,897.5L309.9,896.3ZM315.0,908.3L314.1,909.5L305.0,902.2L306.0,901.1ZM312.2,911.9L311.3,913.1L302.2,905.8L303.1,904.6ZM309.4,915.5L308.4,916.7L299.3,909.3L300.2,908.2ZM306.6,919.0L305.6,920.2L296.4,912.9L297.3,911.7ZM304.7,921.4L302.8,923.8L293.5,916.4L295.4,914.1ZM292.4,937.0L291.5,938.2L281.9,930.6L282.9,929.4ZM290.5,939.4L289.6,940.6L280.0,933.0L281.0,931.8ZM288.7,941.8L287.7,943.0L278.1,935.3L279.0,934.2ZM284.9,946.6L282.1,950.2L272.3,942.4L275.2,938.9ZM281.1,951.4L280.2,952.6L270.4,944.8L271.4,943.6ZM279.3,953.8L278.3,955.0L268.5,947.1L269.4,946.0ZM277.4,956.2L276.4,957.4L266.5,949.5L267.5,948.3ZM271.7,963.4L270.8,964.5L260.8,956.6L261.7,955.4ZM325.3,877.4L324.3,878.6L315.8,871.6L316.8,870.4ZM323.4,879.8L321.4,882.1L312.9,875.1L314.8,872.7ZM318.5,885.7L317.6,886.9L308.9,879.7L309.9,878.6ZM314.7,890.4L313.7,891.6L305.0,884.4L306.0,883.2ZM309.9,896.3L305.0,902.2L296.1,894.9L301.0,889.0ZM295.4,914.1L294.4,915.2L285.3,907.7L286.3,906.5ZM314.8,872.7L312.9,875.1L304.4,867.8L306.4,865.5ZM309.9,878.6L306.9,882.0L298.4,874.7L301.4,871.3ZM306.0,883.2L305.0,884.4L296.3,877.0L297.3,875.9ZM304.0,885.5L303.0,886.7L294.3,879.3L295.3,878.2ZM302.0,887.9L301.0,889.0L292.3,881.6L293.3,880.4ZM300.0,890.2L297.1,893.7L288.3,886.2L291.3,882.7ZM305.4,866.7L301.4,871.3L293.0,863.8L297.1,859.3ZM298.4,874.7L297.3,875.9L288.9,868.3L289.9,867.2ZM292.3,881.6L291.3,882.7L282.7,875.1L283.7,874.0ZM290.3,883.9L282.3,893.1L273.5,885.3L281.7,876.3ZM281.3,894.2L279.3,896.5L270.4,888.7L272.5,886.5ZM294.0,862.7L290.9,866.1L282.6,858.5L285.7,855.1ZM283.7,874.0L282.7,875.1L274.2,867.4L275.3,866.3ZM279.6,878.5L275.5,883.1L266.9,875.2L271.1,870.7ZM274.5,884.2L266.3,893.2L257.5,885.2L265.9,876.3ZM262.2,897.8L261.2,898.9L252.3,890.8L253.4,889.7ZM282.6,858.5L279.5,861.8L271.2,854.0L274.4,850.7ZM275.3,866.3L274.2,867.4L265.9,859.5L267.0,858.4ZM261.7,880.7L260.7,881.9L252.1,873.7L253.1,872.6ZM258.6,884.1L255.5,887.4L246.8,879.2L250.0,875.9ZM253.4,889.7L252.3,890.8L243.6,882.5L244.6,881.4ZM269.1,856.2L268.0,857.3L259.9,849.3L260.9,848.2ZM253.1,872.6L252.1,873.7L243.6,865.4L244.7,864.4ZM250.0,875.9L247.8,878.1L239.3,869.8L241.5,867.6ZM246.8,879.2L244.6,881.4L236.1,873.0L238.2,870.8ZM242.5,883.6L238.3,888.0L229.6,879.5L233.9,875.2ZM236.1,890.2L235.1,891.3L226.3,882.7L227.4,881.6ZM256.6,852.5L255.5,853.6L247.4,845.3L248.5,844.3ZM254.4,854.7L252.3,856.8L244.1,848.5L246.3,846.4ZM235.0,874.1L226.3,882.7L217.7,874.0L226.5,865.5ZM225.2,883.8L220.9,888.1L212.2,879.3L216.6,875.0ZM241.9,850.7L240.8,851.7L232.7,843.2L233.9,842.2ZM239.7,852.8L235.3,857.0L227.1,848.4L231.6,844.3ZM223.2,868.7L219.9,871.9L211.5,863.0L214.8,859.9ZM218.8,872.9L214.4,877.2L205.9,868.2L210.4,864.1ZM213.3,878.2L212.2,879.3L203.7,870.3L204.8,869.3ZM210.0,881.4L208.9,882.5L200.3,873.4L201.4,872.4ZM227.1,848.4L222.7,852.6L214.6,843.8L219.1,839.7ZM219.3,855.7L217.1,857.8L208.9,848.9L211.2,846.9ZM214.8,859.9L213.7,860.9L205.5,852.0L206.6,851.0ZM210.4,864.1L208.1,866.2L199.8,857.1L202.1,855.1ZM205.9,868.2L204.8,869.3L196.4,860.2L197.5,859.2ZM203.7,870.3L201.4,872.4L193.0,863.3L195.3,861.2ZM197.0,876.6L195.8,877.6L187.3,868.4L188.5,867.3ZM194.7,878.7L193.6,879.7L185.0,870.4L186.2,869.4ZM207.8,850.0L206.6,851.0L198.5,841.9L199.7,840.9ZM204.3,853.0L199.8,857.1L191.6,847.9L196.2,843.9ZM198.7,858.1L197.5,859.2L189.3,849.9L190.5,848.9ZM196.4,860.2L195.3,861.2L187.0,851.9L188.2,850.9ZM188.5,867.3L187.3,868.4L178.9,859.0L180.1,858.0ZM191.6,847.9L190.5,848.9L182.4,839.6L183.6,838.6ZM184.7,854.0L183.6,855.0L175.4,845.5L176.6,844.5ZM182.4,856.0L181.2,857.0L173.1,847.5L174.2,846.5ZM180.1,858.0L178.9,859.0L170.7,849.4L171.9,848.5ZM176.6,861.0L175.5,862.0L167.2,852.4L168.4,851.4ZM173.2,864.0L172.0,865.0L163.7,855.3L164.9,854.4ZM135.3,116.7L132.4,115.4L137.2,104.9L140.0,106.2ZM131.0,114.8L129.5,114.2L134.3,103.6L135.7,104.3ZM132.9,103.0L130.0,101.6L135.0,91.1L137.8,92.5Z"/>
<path fill="#3cd270" stroke="#3cd270" stroke-width="0.35" d="M369.3,952.0L368.5,953.3L358.6,947.0L359.5,945.7ZM359.5,945.7L358.6,947.0L348.9,940.5L349.8,939.3ZM348.6,962.2L347.8,963.5L337.8,956.9L338.7,955.6ZM345.3,967.3L343.6,969.9L333.5,963.2L335.2,960.6ZM340.3,975.0L339.4,976.2L329.2,969.5L330.1,968.2ZM338.6,977.5L336.9,980.0L326.7,973.2L328.4,970.7ZM336.1,981.3L335.3,982.6L325.0,975.7L325.8,974.5ZM361.0,922.9L360.1,924.2L350.8,917.7L351.7,916.5ZM349.8,939.3L348.9,940.5L339.4,933.9L340.2,932.7ZM328.4,970.7L327.5,972.0L317.4,965.0L318.3,963.7ZM310.4,974.9L309.5,976.2L299.3,968.9L300.2,967.7ZM306.9,979.9L306.0,981.1L295.7,973.8L296.6,972.6ZM294.7,954.1L292.9,956.6L283.0,949.0L284.9,946.6ZM319.8,902.3L318.8,903.5L309.9,896.3L310.8,895.2ZM317.9,904.7L316.0,907.1L307.0,899.9L308.9,897.5ZM278.3,955.0L277.4,956.2L267.5,948.3L268.5,947.1ZM276.4,957.4L275.5,958.6L265.6,950.7L266.5,949.5ZM311.8,894.0L309.9,896.3L301.0,889.0L303.0,886.7ZM303.0,886.7L302.0,887.9L293.3,880.4L294.3,879.3ZM301.4,871.3L298.4,874.7L289.9,867.2L293.0,863.8ZM297.3,875.9L294.3,879.3L285.8,871.7L288.9,868.3ZM291.3,882.7L290.3,883.9L281.7,876.3L282.7,875.1ZM290.9,866.1L285.8,871.7L277.4,864.0L282.6,858.5ZM282.7,875.1L279.6,878.5L271.1,870.7L274.2,867.4ZM275.5,883.1L274.5,884.2L265.9,876.3L266.9,875.2ZM279.5,861.8L277.4,864.0L269.1,856.2L271.2,854.0ZM274.2,867.4L266.9,875.2L258.5,867.1L265.9,859.5ZM265.9,876.3L261.7,880.7L253.1,872.6L257.4,868.2ZM260.7,881.9L258.6,884.1L250.0,875.9L252.1,873.7ZM268.0,857.3L260.6,865.0L252.3,856.8L259.9,849.3ZM257.4,868.2L256.3,869.3L247.9,861.1L249.0,860.0ZM255.3,870.4L253.1,872.6L244.7,864.4L246.9,862.2ZM252.1,873.7L250.0,875.9L241.5,867.6L243.6,865.4ZM247.8,878.1L246.8,879.2L238.2,870.8L239.3,869.8ZM244.6,881.4L243.6,882.5L235.0,874.1L236.1,873.0ZM255.5,853.6L254.4,854.7L246.3,846.4L247.4,845.3ZM249.0,860.0L243.6,865.4L235.3,857.0L240.8,851.7ZM242.5,866.5L239.3,869.8L230.9,861.3L234.2,858.1ZM238.2,870.8L237.1,871.9L228.7,863.4L229.8,862.3ZM236.1,873.0L235.0,874.1L226.5,865.5L227.6,864.4ZM235.3,857.0L229.8,862.3L221.5,853.6L227.1,848.4ZM227.6,864.4L223.2,868.7L214.8,859.9L219.3,855.7ZM219.9,871.9L218.8,872.9L210.4,864.1L211.5,863.0ZM222.7,852.6L219.3,855.7L211.2,846.9L214.6,843.8ZM217.1,857.8L214.8,859.9L206.6,851.0L208.9,848.9ZM213.7,860.9L211.5,863.0L203.2,854.0L205.5,852.0ZM208.1,866.2L205.9,868.2L197.5,859.2L199.8,857.1ZM204.8,869.3L203.7,870.3L195.3,861.2L196.4,860.2ZM201.4,872.4L200.3,873.4L191.9,864.3L193.0,863.3ZM199.8,857.1L198.7,858.1L190.5,848.9L191.6,847.9Z"/>
<path fill="#14c81e" stroke="#14c81e" stroke-width="0.35" d="M294.3,879.3L292.3,881.6L283.7,874.0L285.8,871.7ZM285.8,871.7L283.7,874.0L275.3,866.3L277.4,864.0ZM277.4,864.0L275.3,866.3L267.0,858.4L269.1,856.2ZM266.9,875.2L265.9,876.3L257.4,868.2L258.5,867.1ZM260.6,865.0L257.4,868.2L249.0,860.0L252.3,856.8ZM256.3,869.3L255.3,870.4L246.9,862.2L247.9,861.1ZM252.3,856.8L249.0,860.0L240.8,851.7L244.1,848.5ZM243.6,865.4L242.5,866.5L234.2,858.1L235.3,857.0ZM239.3,869.8L238.2,870.8L229.8,862.3L230.9,861.3ZM237.1,871.9L236.1,873.0L227.6,864.4L228.7,863.4ZM229.8,862.3L228.7,863.4L220.4,854.7L221.5,853.6ZM211.5,863.0L210.4,864.1L202.1,855.1L203.2,854.0Z"/>
<path fill="#14b41e" stroke="#14b41e" stroke-width="0.35" d="M228.7,863.4L227.6,864.4L219.3,855.7L220.4,854.7Z"/>
<rect x="720.3" y="519" width="2.6" height="2.6" fill="#50ccb0"/>
<g fill="#4560a4"><rect x="732.1" y="1028.9" width="10.8" height="2.8"/><rect x="742.9" y="1028.9" width="11" height="1.6"/><rect x="732.1" y="1036.4" width="10.8" height="3"/><rect x="742.9" y="1037" width="11" height="1.3"/><rect x="719.9" y="1042" width="35" height="4.5"/><rect x="732.1" y="1041" width="10.8" height="1.5"/></g>
<polygon fill="#4560a4" points="136.2,245.2 143.2,246.2 141.2,256.4 139.3,257.8 138.3,266.6 133.4,265.6 134.4,257.3"/><polygon fill="#4a7cb4" points="137.5,249.6 140.4,249.6 139.5,255.9 136.8,255.9"/><polygon fill="#4560a4" points="141.2,279.2 148.8,279.2 147.5,299.1 146.1,299.6 144.6,309.3 140.2,309.3 141.2,300.0 138.8,299.1 138.3,309.3 135.4,309.3 135.4,293.3 136.6,288.4 140.7,288.9"/><polygon fill="#4a7cb4" points="136.8,289.4 143.2,289.4 142.7,298.1 136.6,298.1"/><polygon fill="#5468a4" points="158.2,321.9 159.9,321.9 159.9,331.6 158.2,331.6"/>

</g>
<g class="grid">
<line x1="159.5" x2="159.5" y1="45.5" y2="1046.5"/>
<line x1="344.5" x2="344.5" y1="45.5" y2="1046.5"/>
<line x1="529.5" x2="529.5" y1="45.5" y2="1046.5"/>
<line x1="714.5" x2="714.5" y1="45.5" y2="1046.5"/>
<line x1="899.5" x2="899.5" y1="45.5" y2="1046.5"/>
<line x1="85.5" x2="1010.5" y1="161.5" y2="161.5"/>
<line x1="85.5" x2="1010.5" y1="306.5" y2="306.5"/>
<line x1="85.5" x2="1010.5" y1="450.5" y2="450.5"/>
<line x1="85.5" x2="1010.5" y1="593.5" y2="593.5"/>
<line x1="85.5" x2="1010.5" y1="735.5" y2="735.5"/>
<line x1="85.5" x2="1010.5" y1="877.5" y2="877.5"/>
<line x1="85.5" x2="1010.5" y1="1018.5" y2="1018.5"/>
</g>
<g class="ct">
<path d="M470.3,454.3 L479.9,450.9 L483.9,452.9 L488.9,450.9 L494.9,450.9 L497.9,445.9 L499.9,436.9 L497.9,433.9 L501.9,432.9 L504.9,434.9 L510.9,430.9 L514.9,428.9 L518.9,431.9 L522.9,439.9 L529.9,443.9 L536.9,446.9 L540.9,449.9 L547.9,446.9 L550.9,449.9 L548.9,454.9 L542.9,457.9 L539.9,463.9 L540.9,470.9 L543.9,474.9 L544.9,480.9 L543.9,489.9 L539.9,497.9 L536.9,503.9 L534.9,511.9 L531.9,517.8 L525.9,521.8 L525.9,529.8 L522.9,534.8 L518.9,538.8 L519.9,538.0 L519.5,544.0 L517.9,553.0 L521.9,554.0 L529.9,551.0 L537.9,549.0 L543.9,549.0 L551.9,547.0 L555.9,550.0 L559.9,549.0 L563.9,555.0 L568.9,558.0 L573.9,556.0 L577.9,552.0 L583.9,550.0 L590.8,551.0 L597.8,551.0 L599.8,558.0 L603.8,564.0 L609.8,568.0 L616.8,567.0 L618.8,573.0 L625.8,577.0 L630.8,582.0 L631.8,589.0 L629.8,595.9"/>
<path d="M544.9,480.9 L547.9,477.9 L553.9,469.9 L559.9,461.9 L564.9,456.9 L566.9,459.9 L569.9,458.9 L575.9,464.3 L582.9,464.9 L586.9,462.9 L588.8,472.9 L594.8,476.9"/>
<path d="M564.9,456.9 L565.9,469.9 L563.9,479.9 L565.9,489.9 L569.9,497.9 L575.9,502.9 L581.9,507.9 L588.8,513.9 L594.8,519.8 L597.8,523.8 L602.8,516.9 L611.8,512.9 L617.8,512.9"/>
<path d="M450.0,518.8 L454.0,522.8 L460.0,524.8 L466.9,522.8 L471.9,515.9 L475.9,510.9 L480.9,515.9 L484.9,522.8 L488.9,524.8 L491.9,514.9 L493.9,514.9 L494.9,521.8 L498.9,530.8 L502.9,527.8 L506.9,522.8 L511.9,526.8 L517.9,531.8 L522.9,534.8"/>
<path d="M537.9,549.0 L538.9,559.0 L533.9,565.0 L532.9,570.0 L526.9,572.0 L524.9,578.0 L526.9,583.0 L521.9,588.0 L523.9,594.9 L527.9,602.9 L528.9,609.9 L527.9,617.9 L529.9,623.5 L537.9,623.9 L542.9,625.9 L547.9,625.9 L552.9,622.9 L559.9,623.9 L564.9,627.3 L571.9,626.3 L579.9,628.9 L591.8,629.3 L599.8,628.9 L607.8,630.9 L617.8,630.9 L626.8,631.9 L631.8,639.9 L635.8,649.9 L639.8,657.9"/>
<path d="M644.9,543.9 L644.9,537.9 L639.8,539.0 L630.8,538.0 L627.8,546.0 L628.8,552.0 L624.8,562.0 L618.8,573.0"/>
<path d="M591.8,629.3 L595.8,621.9 L597.8,611.9 L603.8,606.9 L609.8,599.9 L615.8,594.9 L629.8,595.9 L639.8,599.9 L648.9,607.9 L653.9,604.9 L659.9,602.9 L664.9,601.9 L669.9,599.9 L670.9,594.9 L674.9,592.9 L678.9,594.9 L683.9,599.9 L688.9,603.9 L692.9,600.9 L696.9,597.9 L703.9,599.5 L711.9,602.3 L714.9,602.9"/>
<path d="M487.9,615.9 L491.9,614.9 L497.9,617.9 L503.9,620.9 L509.9,616.9 L517.9,611.9 L525.9,609.9 L528.9,609.9"/>
<path d="M564.9,627.3 L561.5,631.9 L562.9,638.9 L565.5,643.9 L564.9,650.9 L559.9,649.9 L558.9,645.9 L553.9,645.9 L548.9,651.9 L545.9,659.9 L539.9,667.9 L529.9,673.9 L528.9,677.9 L531.9,683.9 L530.9,688.9 L539.9,686.9 L547.9,683.9 L555.9,683.5 L557.9,688.9 L561.9,689.9 L565.9,695.9 L569.9,698.9 L577.9,699.9 L584.9,704.9 L589.8,707.9 L591.8,713.9 L587.8,719.8 L588.8,723.8 L599.8,718.8 L612.2,713.5 L614.8,720.8 L616.8,727.8"/>
<path d="M612.2,713.5 L611.8,703.9 L614.8,695.9 L621.8,692.9 L629.8,687.9 L638.8,684.9 L637.8,679.9 L632.8,676.9 L635.8,670.9 L639.8,667.9 L639.9,668.0 L644.9,665.0 L642.9,660.0 L637.9,656.0 L634.9,648.0 L631.9,640.0"/>
<path d="M530.9,688.9 L527.9,691.9 L521.9,695.9 L515.9,692.9 L509.9,695.9 L499.9,700.9 L492.9,702.9 L491.9,706.9 L487.9,706.9 L487.5,699.9 L482.3,695.9"/>
<path d="M644.9,665.0 L651.8,666.0 L656.8,672.0 L665.8,673.0 L668.8,679.0"/>

</g>
<g class="bd">
<path d="M578.3,46.0 L580.9,50.0 L582.3,55.0 L585.9,59.0 L589.3,62.0 L590.3,67.0 L592.9,71.0 L593.3,75.6 L595.5,77.0 L590.9,77.6 L593.9,81.0 L597.9,85.6 L595.5,88.4 L599.3,87.0 L600.5,83.6 L607.9,84.4 L614.9,87.4 L621.9,87.6 L626.3,86.4 L628.9,89.0 L628.5,93.6 L624.9,98.0 L620.5,100.0 L620.9,103.9 L616.9,108.9 L611.9,109.9 L610.9,113.5 L605.9,117.9 L602.9,121.5 L597.9,123.9 L593.5,127.9 L594.3,134.9 L596.9,137.9 L602.3,139.9 L602.5,142.9 L598.9,144.3 L599.9,148.3 L604.9,149.5 L607.9,154.3 L610.9,159.9 L612.5,164.3 L617.9,161.5 L622.3,159.5 L624.9,161.9 L628.9,158.9 L633.9,159.9 L637.9,161.9 L642.9,160.3 L647.9,163.9 L653.9,166.9 L659.3,168.5 L655.5,170.3 L654.9,175.9 L655.9,181.9 L658.9,185.9 L663.9,187.9 L667.5,187.5 L668.9,191.9 L669.3,197.9 L667.5,202.9 L664.9,208.9 L665.5,213.9 L662.9,219.9 L659.9,224.9 L655.9,229.8 L659.9,233.8 L662.9,236.8 L664.9,242.8 L664.9,241.0 L669.9,245.0 L675.9,249.0 L678.9,253.0 L680.9,257.0 L679.9,263.0 L671.9,264.0 L667.9,268.0 L663.9,270.0 L664.3,274.0 L659.9,270.0 L654.9,266.0 L650.9,263.0 L646.9,265.6 L642.9,265.0 L640.9,270.0 L637.9,272.0 L637.9,277.0 L634.9,281.0 L635.9,287.0 L637.9,289.0 L633.9,295.0 L628.9,297.0 L624.9,296.0 L619.9,298.4 L614.9,299.6 L608.9,302.0 L604.9,305.9 L602.9,311.9 L597.9,313.5 L593.9,315.5 L593.9,319.9 L590.3,321.9 L592.9,323.9 L595.9,326.9 L597.3,327.9 L598.5,329.9 L597.9,336.7 L599.9,343.3 L597.9,346.7 L590.5,346.3 L587.9,349.9 L583.3,347.3 L580.5,352.7 L583.3,356.7 L582.5,359.9 L577.3,360.7 L581.3,364.7 L585.3,362.7 L586.5,367.9 L583.9,371.3 L579.9,372.7 L580.0,373.3 L579.3,377.3 L576.3,379.3 L575.6,382.3 L579.3,384.3 L577.3,387.3 L579.3,390.0 L575.0,392.0 L578.3,395.6 L573.3,396.3 L573.0,401.3 L575.3,404.6 L572.6,406.3 L577.0,407.6 L574.0,410.6 L571.3,412.0 L570.0,416.0 L574.6,416.0 L573.3,418.6 L576.0,422.0 L578.6,425.3 L578.3,428.6 L576.6,431.9 L579.3,433.9 L583.3,436.6 L581.3,439.3 L577.3,438.9 L578.6,442.0 L580.0,442.0 L584.3,444.3 L583.0,448.0 L580.0,450.6 L584.7,454.0 L588.0,456.6 L592.6,458.3 L590.6,462.0 L590.0,466.6 L592.0,470.6 L595.3,475.3 L598.0,472.6 L596.6,469.3 L599.3,467.3 L600.6,471.3 L601.3,475.3 L602.6,479.3 L605.3,476.0 L608.6,479.3 L612.0,478.6 L610.0,482.0 L612.6,486.0 L612.0,490.6 L609.3,493.3 L614.0,495.3 L615.6,499.3 L613.3,502.0 L614.9,503.9 L617.9,508.9 L622.9,513.9 L627.9,517.9 L632.9,518.9 L637.9,521.9 L639.9,525.9 L643.9,523.9 L645.9,528.9 L646.9,535.9 L647.9,541.9 L651.9,542.9 L654.9,537.9 L657.9,534.9 L664.9,535.5 L668.9,540.9 L672.9,546.9 L677.9,552.3 L683.9,554.3 L687.9,557.9 L691.9,555.5 L697.9,556.9 L700.9,552.9 L703.9,550.9 L707.9,554.9 L712.9,557.5 L717.9,558.9 L718.9,562.9 L721.9,556.9 L725.9,559.9 L722.9,564.9 L717.9,567.9 L716.9,571.9 L720.9,575.9 L719.9,579.9 L721.9,584.9 L716.9,588.9 L715.9,595.9 L715.5,601.9 L713.9,606.9 L719.9,607.9 L715.9,613.9 L710.9,617.9 L704.9,623.9 L698.9,626.9 L693.9,632.8 L687.9,638.8"/>
<path d="M579.9,372.7 L571.9,370.7 L575.3,361.3 L573.9,355.9 L566.5,351.3 L558.6,349.9 L557.4,358.7 L553.4,359.9 L546.6,357.3 L540.0,353.3 L538.3,345.4 L527.9,348.0 L517.9,351.0 L515.5,360.0 L512.3,372.0 L503.9,377.0 L492.3,385.6 L489.5,395.9 L487.3,404.9 L481.9,407.5 L476.9,413.9 L477.5,422.9 L474.9,431.9 L470.9,437.9 L465.5,441.9 L465.9,448.9 L470.3,455.9 L470.9,462.3 L465.9,464.9 L461.0,466.9 L459.4,471.9 L454.0,470.9 L448.6,472.9 L447.0,481.9 L444.4,490.9 L441.0,498.9 L437.0,501.9 L434.0,505.9 L438.0,509.9 L444.4,512.9 L450.0,516.9 L448.0,522.8 L440.0,524.8 L439.6,531.8 L436.6,533.8 L437.0,539.8 L439.0,531.0 L437.0,536.0 L435.6,543.0 L437.0,548.0 L436.0,554.0 L438.4,560.0 L439.4,566.4 L449.0,566.4 L454.0,572.0 L459.0,582.0 L463.9,592.0 L465.9,599.9 L467.3,606.3 L472.9,606.5 L478.9,605.5 L483.9,609.9 L487.9,615.9 L482.9,621.9 L481.9,627.9 L483.9,632.9 L489.9,636.9 L496.9,639.9 L495.3,647.9 L495.5,655.5 L486.3,656.3 L484.9,663.9 L481.9,670.9 L479.9,676.9 L474.9,680.9 L474.9,684.3 L481.9,685.5 L482.3,691.9 L476.9,698.9 L469.9,704.9 L463.9,707.9 L460.0,710.9 L462.0,713.9 L468.9,711.9 L470.9,717.8 L467.9,719.8 L469.9,725.8 L475.9,731.8 L481.9,735.8 L488.9,736.8 L495.9,734.8 L503.9,735.8 L511.9,735.8 L517.9,739.8 L518.9,746.0"/>
<path d="M84.0,474.3 L93.0,476.3 L101.4,478.9 L106.0,486.9 L114.0,493.9 L116.6,499.9 L116.0,507.9 L112.0,516.9 L109.0,523.8 L104.4,528.2 L105.6,536.8 L110.0,542.0 L112.4,553.0 L109.0,560.0 L105.6,567.6 L108.0,570.0 L112.4,568.0 L118.0,571.0 L123.9,572.4 L129.9,571.0 L134.3,571.6 L137.9,569.0 L138.9,566.0 L142.9,564.0 L155.9,564.4 L159.9,569.0 L164.9,576.4 L175.9,581.0 L184.9,586.4 L191.9,584.4 L195.9,590.0 L200.9,598.9 L205.5,606.9 L204.3,611.9 L212.9,616.3 L214.9,611.5 L218.9,612.9 L219.9,617.9 L220.5,625.5 L228.9,624.3 L235.9,624.3 L238.9,627.5 L245.9,626.9 L250.2,628.3 L258.2,623.5 L262.8,627.9 L264.8,631.9 L272.8,638.9 L282.2,647.9 L276.8,651.9 L271.8,660.9 L274.8,670.9 L285.8,667.5 L287.2,660.9 L299.8,666.5 L305.0,668.9 L312.0,675.9 L318.4,682.3 L319.4,688.9 L321.6,696.3 L326.9,697.9 L324.9,702.9 L322.4,706.9 L326.9,711.9 L331.5,715.9 L329.9,721.9 L324.3,725.5 L329.5,728.9 L330.9,733.9 L332.9,736.9 L338.3,731.9 L345.9,730.9 L357.9,727.5 L363.9,719.5 L369.9,719.5 L378.9,722.3 L382.3,727.9 L384.9,731.9 L387.9,724.9 L387.9,717.9 L392.9,712.3 L396.9,707.5 L402.9,705.5 L408.9,707.9 L414.9,709.5 L418.9,712.9 L424.9,711.9 L429.5,709.9 L433.9,712.9 L438.9,711.5 L439.5,701.9 L444.9,699.3 L452.8,704.9 L459.8,707.9 L463.8,707.9"/>
<path d="M84.0,364.0 L93.6,353.6 L96.4,360.4 L105.0,361.0 L113.0,361.6 L116.4,368.4 L121.0,371.0 L115.0,375.0 L111.0,381.6 L112.0,390.0 L112.4,396.9 L109.0,396.9 L106.0,392.9 L102.0,394.9 L101.0,400.9 L101.0,409.9 L93.0,411.9 L96.0,416.9 L97.0,421.9 L100.0,426.9 L96.0,431.9 L93.0,436.9 L92.0,444.9 L91.0,451.9 L88.0,457.9 L84.0,460.9"/>
<path d="M517.9,739.8 L518.9,746.0 L519.0,745.9 L519.6,754.9 L523.5,758.9 L522.0,762.3 L528.9,760.3 L536.9,761.5 L543.9,764.9 L546.9,759.9 L550.9,754.9 L555.9,755.5 L560.9,758.9 L565.9,761.9 L566.9,752.9 L571.9,749.9 L576.5,747.9 L577.3,740.9 L581.9,741.5 L587.5,738.9 L587.9,732.9 L593.9,730.9 L601.9,731.5 L609.9,731.5 L618.9,728.5 L625.9,730.9 L631.5,733.9 L633.9,739.9 L638.9,743.5 L639.5,745.9 L646.9,748.9 L652.8,753.9 L658.8,754.9 L664.8,757.9 L665.8,754.9 L665.4,739.9 L663.8,727.9 L661.8,717.9 L664.8,710.9 L669.8,703.9 L670.2,700.0 L666.8,697.0 L661.8,693.6 L663.8,690.0 L669.8,689.0 L666.8,684.0 L669.8,679.0 L676.8,677.0 L682.8,671.0 L686.8,664.0 L689.8,654.0 L692.8,646.0 L690.8,642.0 L686.8,640.0"/>
<path d="M665.0,757.0 L670.0,755.6 L676.0,755.6 L681.0,753.0 L685.0,748.6 L689.0,750.0 L692.0,754.0 L698.0,756.0 L701.0,754.4 L704.9,759.0 L708.9,762.4 L713.9,763.6 L718.9,768.0 L722.9,771.6 L727.9,772.4 L731.9,776.0 L735.5,780.6 L730.9,782.9 L727.9,786.9 L729.5,790.9 L732.9,792.9 L736.9,797.5 L742.9,797.9 L746.9,800.9 L746.9,806.9 L750.9,809.9 L748.9,815.9 L746.9,819.9 L742.9,815.9 L737.9,817.5 L738.3,821.9 L741.9,825.9 L745.9,828.9 L749.5,829.5 L747.5,835.9 L751.9,840.9 L756.9,846.3 L759.9,847.5 L765.9,852.9 L771.9,858.3 L776.9,858.9 L776.9,865.9 L773.9,870.9 L775.9,874.9 L781.9,873.9 L784.3,877.9 L782.9,883.9 L783.9,889.9 L785.9,895.9 L791.9,895.5 L796.5,893.9 L799.5,901.5 L795.9,907.8 L792.9,912.8 L795.5,918.8 L799.9,923.8 L802.9,925.4 L809.9,924.2 L817.9,922.8 L824.9,926.8 L831.8,929.8 L837.8,932.2 L842.4,929.5 L841.6,920.9 L847.0,918.9 L848.0,912.9 L845.0,907.9 L843.6,901.9 L838.4,897.9 L843.0,894.9 L848.0,892.0 L853.0,896.9 L859.0,899.9 L863.9,896.9 L867.9,895.9 L869.9,892.4 L875.9,892.9 L878.9,897.9 L883.9,903.5 L889.5,899.5 L894.9,903.9 L899.9,908.9 L902.9,911.9 L906.9,909.9 L911.9,910.3 L910.3,919.9 L911.5,927.9 L914.9,935.9 L916.9,941.9 L916.3,949.9 L919.5,954.3 L924.3,952.9 L926.3,947.9 L932.9,944.3 L931.9,938.9 L929.9,931.9 L935.9,929.9 L940.9,931.9 L937.9,938.9 L945.9,937.9 L948.9,943.9 L952.9,946.9 L957.9,949.9 L959.9,945.9 L966.9,943.9 L970.9,947.9 L972.9,952.3 L975.9,947.9 L982.9,946.9 L989.8,944.3 L996.8,947.9 L1002.8,948.3 L1004.2,951.9 L1007.8,952.3 L1011.8,948.9"/>

</g>
<circle cx="732.2" cy="386.6" r="5.2" fill="#f00" stroke="#000" stroke-width="0.8"/>
</g>
<rect x="85.5" y="45.5" width="925" height="1001" fill="none" stroke="#000" stroke-width="1.07"/>
<rect x="97.5" y="53.5" width="218.5" height="49.5" fill="#fff" fill-opacity="0.9" stroke="#000" stroke-width="1.1"/>
<text x="102.4" y="72.5" font-size="16.67">Product: 0.8° Reflectivity</text>
<text x="102.4" y="92.4" font-size="16.67">Data: DWD</text>
<text x="548" y="37.7" text-anchor="middle" font-size="34.9">14.11.2025 12:20 UTC</text>
<text transform="translate(159.5,1067.1) scale(0.972,1.04)" text-anchor="middle" font-size="16.67">5°E</text>
<text transform="translate(344.5,1067.1) scale(0.972,1.04)" text-anchor="middle" font-size="16.67">5.5°E</text>
<text transform="translate(529.5,1067.1) scale(0.972,1.04)" text-anchor="middle" font-size="16.67">6°E</text>
<text transform="translate(714.5,1067.1) scale(0.972,1.04)" text-anchor="middle" font-size="16.67">6.5°E</text>
<text transform="translate(899.5,1067.1) scale(0.972,1.04)" text-anchor="middle" font-size="16.67">7°E</text>
<text transform="translate(77.6,166.4) scale(0.972,1.04)" text-anchor="end" font-size="16.67">50.5°N</text>
<text transform="translate(77.6,311.4) scale(0.972,1.04)" text-anchor="end" font-size="16.67">50.25°N</text>
<text transform="translate(77.6,455.4) scale(0.972,1.04)" text-anchor="end" font-size="16.67">50°N</text>
<text transform="translate(77.6,598.4) scale(0.972,1.04)" text-anchor="end" font-size="16.67">49.75°N</text>
<text transform="translate(77.6,740.4) scale(0.972,1.04)" text-anchor="end" font-size="16.67">49.5°N</text>
<text transform="translate(77.6,882.4) scale(0.972,1.04)" text-anchor="end" font-size="16.67">49.25°N</text>
<text transform="translate(77.6,1023.4) scale(0.972,1.04)" text-anchor="end" font-size="16.67">49°N</text>

<rect x="1068.5" y="964.32" width="45.0" height="32.68" fill="#6675a8"/>
<rect x="1068.5" y="932.14" width="45.0" height="32.68" fill="#5468a4"/>
<rect x="1068.5" y="899.96" width="45.0" height="32.68" fill="#4560a4"/>
<rect x="1068.5" y="867.79" width="45.0" height="32.68" fill="#4a7cb4"/>
<rect x="1068.5" y="835.61" width="45.0" height="32.68" fill="#5a9ec8"/>
<rect x="1068.5" y="803.43" width="45.0" height="32.68" fill="#64c0dc"/>
<rect x="1068.5" y="771.25" width="45.0" height="32.68" fill="#64d4c4"/>
<rect x="1068.5" y="739.07" width="45.0" height="32.68" fill="#3cd270"/>
<rect x="1068.5" y="706.89" width="45.0" height="32.68" fill="#14c81e"/>
<rect x="1068.5" y="674.71" width="45.0" height="32.68" fill="#14b41e"/>
<rect x="1068.5" y="642.54" width="45.0" height="32.68" fill="#14a01e"/>
<rect x="1068.5" y="610.36" width="45.0" height="32.68" fill="#118c1a"/>
<rect x="1068.5" y="578.18" width="45.0" height="32.68" fill="#0c7814"/>
<rect x="1068.5" y="546.00" width="45.0" height="32.68" fill="#086410"/>
<rect x="1068.5" y="513.82" width="45.0" height="32.68" fill="#467c0c"/>
<rect x="1068.5" y="481.64" width="45.0" height="32.68" fill="#b0b00a"/>
<rect x="1068.5" y="449.46" width="45.0" height="32.68" fill="#ffd800"/>
<rect x="1068.5" y="417.29" width="45.0" height="32.68" fill="#ffb400"/>
<rect x="1068.5" y="385.11" width="45.0" height="32.68" fill="#ff9600"/>
<rect x="1068.5" y="352.93" width="45.0" height="32.68" fill="#ff8000"/>
<rect x="1068.5" y="320.75" width="45.0" height="32.68" fill="#e10000"/>
<rect x="1068.5" y="288.57" width="45.0" height="32.68" fill="#be0000"/>
<rect x="1068.5" y="256.39" width="45.0" height="32.68" fill="#9b0000"/>
<rect x="1068.5" y="224.21" width="45.0" height="32.68" fill="#780000"/>
<rect x="1068.5" y="192.04" width="45.0" height="32.68" fill="#ffe0ff"/>
<rect x="1068.5" y="159.86" width="45.0" height="32.68" fill="#ffb4ff"/>
<rect x="1068.5" y="127.68" width="45.0" height="32.68" fill="#ff68ff"/>
<rect x="1068.5" y="95.50" width="45.0" height="32.68" fill="#ec34ee"/>
<rect x="1068.5" y="95.5" width="45.0" height="901.0" fill="none" stroke="#000" stroke-width="1"/>
<line x1="1113.5" x2="1118.2" y1="996.50" y2="996.50" stroke="#000" stroke-width="1.07"/>
<text x="1123" y="1006.20" font-size="27.78">0</text>
<line x1="1113.5" x2="1118.2" y1="867.79" y2="867.79" stroke="#000" stroke-width="1.07"/>
<text x="1123" y="877.49" font-size="27.78">10</text>
<line x1="1113.5" x2="1118.2" y1="739.07" y2="739.07" stroke="#000" stroke-width="1.07"/>
<text x="1123" y="748.77" font-size="27.78">20</text>
<line x1="1113.5" x2="1118.2" y1="610.36" y2="610.36" stroke="#000" stroke-width="1.07"/>
<text x="1123" y="620.06" font-size="27.78">30</text>
<line x1="1113.5" x2="1118.2" y1="481.64" y2="481.64" stroke="#000" stroke-width="1.07"/>
<text x="1123" y="491.34" font-size="27.78">40</text>
<line x1="1113.5" x2="1118.2" y1="352.93" y2="352.93" stroke="#000" stroke-width="1.07"/>
<text x="1123" y="362.63" font-size="27.78">50</text>
<line x1="1113.5" x2="1118.2" y1="224.21" y2="224.21" stroke="#000" stroke-width="1.07"/>
<text x="1123" y="233.91" font-size="27.78">60</text>
<line x1="1113.5" x2="1118.2" y1="95.50" y2="95.50" stroke="#000" stroke-width="1.07"/>
<text x="1123" y="105.20" font-size="27.78">70</text>
<text transform="translate(1188.3,548.5) rotate(-90)" text-anchor="middle" font-size="27.78">dBZ</text>

</svg>
</body></html>
